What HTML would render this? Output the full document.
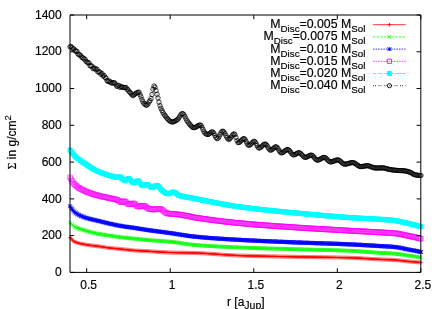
<!DOCTYPE html>
<html><head><meta charset="utf-8"><title>Surface density</title>
<style>html,body{margin:0;padding:0;background:#fff;overflow:hidden}svg{display:block}text{font-family:"Liberation Sans",sans-serif}</style></head>
<body>
<svg width="442" height="309" viewBox="0 0 442 309">
<rect width="442" height="309" fill="#fff"/>
<path d="M70 237.5 71 238.6 72 239.7 73 240.7 74 241.4 75 242 76 242.4 77 242.7 78 243 79 243.3 80 243.5 81 243.8 82 244 83 244.1 84 244.3 85 244.5 86 244.7 87 244.8 88 245 89 245.1 90 245.3 91 245.4 92 245.5 93 245.6 94 245.8 95 245.9 96 246 97 246.1 98 246.3 99 246.4 100 246.6 101 246.7 102 246.9 103 247 104 247.2 105 247.3 106 247.5 107 247.6 108 247.8 109 247.9 110 248 111 248.1 112 248.2 113 248.3 114 248.4 115 248.5 116 248.6 117 248.7 118 248.8 119 248.9 120 249 121 249.1 122 249.2 123 249.3 124 249.4 125 249.5 126 249.6 127 249.7 128 249.8 129 249.9 130 250.1 131 250.2 132 250.3 133 250.4 134 250.4 135 250.5 136 250.6 137 250.6 138 250.7 139 250.8 140 250.8 141 250.9 142 250.9 143 251 144 251 145 251.1 146 251.1 147 251.2 148 251.2 149 251.3 150 251.4 151 251.4 152 251.5 153 251.6 154 251.6 155 251.7 156 251.8 157 251.8 158 251.9 159 252 160 252 161 252.1 162 252.1 163 252.2 164 252.2 165 252.3 166 252.3 167 252.4 168 252.4 169 252.5 170 252.5 171 252.5 172 252.6 173 252.6 174 252.6 175 252.6 176 252.7 177 252.7 178 252.7 179 252.7 180 252.7 181 252.7 182 252.8 183 252.8 184 252.8 185 252.8 186 252.8 187 252.8 188 252.8 189 252.9 190 252.9 191 252.9 192 252.9 193 252.9 194 253 195 253 196 253 197 253.1 198 253.1 199 253.1 200 253.2 201 253.2 202 253.3 203 253.3 204 253.4 205 253.4 206 253.5 207 253.6 208 253.6 209 253.7 210 253.8 211 253.8 212 253.9 213 254 214 254 215 254.1 216 254.2 217 254.2 218 254.3 219 254.4 220 254.5 221 254.5 222 254.6 223 254.7 224 254.7 225 254.8 226 254.9 227 254.9 228 255 229 255.1 230 255.1 231 255.2 232 255.2 233 255.3 234 255.3 235 255.4 236 255.4 237 255.5 238 255.5 239 255.6 240 255.6 241 255.6 242 255.7 243 255.7 244 255.7 245 255.8 246 255.8 247 255.8 248 255.8 249 255.9 250 255.9 251 255.9 252 255.9 253 256 254 256 255 256 256 256 257 256.1 258 256.1 259 256.1 260 256.1 261 256.2 262 256.2 263 256.2 264 256.2 265 256.2 266 256.3 267 256.3 268 256.3 269 256.3 270 256.3 271 256.4 272 256.4 273 256.4 274 256.4 275 256.4 276 256.4 277 256.5 278 256.5 279 256.5 280 256.5 281 256.5 282 256.6 283 256.6 284 256.6 285 256.6 286 256.6 287 256.6 288 256.7 289 256.7 290 256.7 291 256.7 292 256.7 293 256.8 294 256.8 295 256.8 296 256.8 297 256.8 298 256.9 299 256.9 300 256.9 301 256.9 302 256.9 303 256.9 304 257 305 257 306 257 307 257 308 257 309 257 310 257.1 311 257.1 312 257.1 313 257.1 314 257.1 315 257.1 316 257.1 317 257.2 318 257.2 319 257.2 320 257.2 321 257.2 322 257.2 323 257.3 324 257.3 325 257.3 326 257.3 327 257.3 328 257.3 329 257.3 330 257.4 331 257.4 332 257.4 333 257.4 334 257.4 335 257.5 336 257.5 337 257.5 338 257.5 339 257.5 340 257.6 341 257.6 342 257.6 343 257.6 344 257.6 345 257.7 346 257.7 347 257.7 348 257.7 349 257.8 350 257.8 351 257.8 352 257.9 353 257.9 354 257.9 355 258 356 258 357 258.1 358 258.1 359 258.2 360 258.2 361 258.3 362 258.3 363 258.4 364 258.5 365 258.5 366 258.6 367 258.6 368 258.7 369 258.8 370 258.8 371 258.9 372 258.9 373 259 374 259.1 375 259.1 376 259.2 377 259.2 378 259.3 379 259.3 380 259.4 381 259.4 382 259.5 383 259.5 384 259.6 385 259.6 386 259.6 387 259.7 388 259.7 389 259.7 390 259.8 391 259.8 392 259.9 393 259.9 394 260 395 260 396 260.1 397 260.2 398 260.3 399 260.4 400 260.5 401 260.6 402 260.7 403 260.8 404 260.9 405 261.1 406 261.2 407 261.3 408 261.4 409 261.5 410 261.6 411 261.6 412 261.7 413 261.8 414 261.9 415 262 416 262.1 417 262.2 418 262.3 419 262.3 420 262.4 421 262.5" fill="none" stroke="#ff0000" stroke-width="0.9"/>
<path d="M68 237.5h4M70 235.5v4M69 238.6h4M71 236.6v4M70 239.7h4M72 237.7v4M71 240.7h4M73 238.7v4M72 241.4h4M74 239.4v4M73 242h4M75 240v4M74 242.4h4M76 240.4v4M75 242.7h4M77 240.7v4M76 243h4M78 241v4M77 243.3h4M79 241.3v4M78 243.5h4M80 241.5v4M79 243.8h4M81 241.8v4M80 244h4M82 242v4M81 244.1h4M83 242.1v4M82 244.3h4M84 242.3v4M83 244.5h4M85 242.5v4M84 244.7h4M86 242.7v4M85 244.8h4M87 242.8v4M86 245h4M88 243v4M87 245.1h4M89 243.1v4M88 245.3h4M90 243.3v4M89 245.4h4M91 243.4v4M90 245.5h4M92 243.5v4M91 245.6h4M93 243.6v4M92 245.8h4M94 243.8v4M93 245.9h4M95 243.9v4M94 246h4M96 244v4M95 246.1h4M97 244.1v4M96 246.3h4M98 244.3v4M97 246.4h4M99 244.4v4M98 246.6h4M100 244.6v4M99 246.7h4M101 244.7v4M100 246.9h4M102 244.9v4M101 247h4M103 245v4M102 247.2h4M104 245.2v4M103 247.3h4M105 245.3v4M104 247.5h4M106 245.5v4M105 247.6h4M107 245.6v4M106 247.8h4M108 245.8v4M107 247.9h4M109 245.9v4M108 248h4M110 246v4M109 248.1h4M111 246.1v4M110 248.2h4M112 246.2v4M111 248.3h4M113 246.3v4M112 248.4h4M114 246.4v4M113 248.5h4M115 246.5v4M114 248.6h4M116 246.6v4M115 248.7h4M117 246.7v4M116 248.8h4M118 246.8v4M117 248.9h4M119 246.9v4M118 249h4M120 247v4M119 249.1h4M121 247.1v4M120 249.2h4M122 247.2v4M121 249.3h4M123 247.3v4M122 249.4h4M124 247.4v4M123 249.5h4M125 247.5v4M124 249.6h4M126 247.6v4M125 249.7h4M127 247.7v4M126 249.8h4M128 247.8v4M127 249.9h4M129 247.9v4M128 250.1h4M130 248.1v4M129 250.2h4M131 248.2v4M130 250.3h4M132 248.3v4M131 250.4h4M133 248.4v4M132 250.4h4M134 248.4v4M133 250.5h4M135 248.5v4M134 250.6h4M136 248.6v4M135 250.6h4M137 248.6v4M136 250.7h4M138 248.7v4M137 250.8h4M139 248.8v4M138 250.8h4M140 248.8v4M139 250.9h4M141 248.9v4M140 250.9h4M142 248.9v4M141 251h4M143 249v4M142 251h4M144 249v4M143 251.1h4M145 249.1v4M144 251.1h4M146 249.1v4M145 251.2h4M147 249.2v4M146 251.2h4M148 249.2v4M147 251.3h4M149 249.3v4M148 251.4h4M150 249.4v4M149 251.4h4M151 249.4v4M150 251.5h4M152 249.5v4M151 251.6h4M153 249.6v4M152 251.6h4M154 249.6v4M153 251.7h4M155 249.7v4M154 251.8h4M156 249.8v4M155 251.8h4M157 249.8v4M156 251.9h4M158 249.9v4M157 252h4M159 250v4M158 252h4M160 250v4M159 252.1h4M161 250.1v4M160 252.1h4M162 250.1v4M161 252.2h4M163 250.2v4M162 252.2h4M164 250.2v4M163 252.3h4M165 250.3v4M164 252.3h4M166 250.3v4M165 252.4h4M167 250.4v4M166 252.4h4M168 250.4v4M167 252.5h4M169 250.5v4M168 252.5h4M170 250.5v4M169 252.5h4M171 250.5v4M170 252.6h4M172 250.6v4M171 252.6h4M173 250.6v4M172 252.6h4M174 250.6v4M173 252.6h4M175 250.6v4M174 252.7h4M176 250.7v4M175 252.7h4M177 250.7v4M176 252.7h4M178 250.7v4M177 252.7h4M179 250.7v4M178 252.7h4M180 250.7v4M179 252.7h4M181 250.7v4M180 252.8h4M182 250.8v4M181 252.8h4M183 250.8v4M182 252.8h4M184 250.8v4M183 252.8h4M185 250.8v4M184 252.8h4M186 250.8v4M185 252.8h4M187 250.8v4M186 252.8h4M188 250.8v4M187 252.9h4M189 250.9v4M188 252.9h4M190 250.9v4M189 252.9h4M191 250.9v4M190 252.9h4M192 250.9v4M191 252.9h4M193 250.9v4M192 253h4M194 251v4M193 253h4M195 251v4M194 253h4M196 251v4M195 253.1h4M197 251.1v4M196 253.1h4M198 251.1v4M197 253.1h4M199 251.1v4M198 253.2h4M200 251.2v4M199 253.2h4M201 251.2v4M200 253.3h4M202 251.3v4M201 253.3h4M203 251.3v4M202 253.4h4M204 251.4v4M203 253.4h4M205 251.4v4M204 253.5h4M206 251.5v4M205 253.6h4M207 251.6v4M206 253.6h4M208 251.6v4M207 253.7h4M209 251.7v4M208 253.8h4M210 251.8v4M209 253.8h4M211 251.8v4M210 253.9h4M212 251.9v4M211 254h4M213 252v4M212 254h4M214 252v4M213 254.1h4M215 252.1v4M214 254.2h4M216 252.2v4M215 254.2h4M217 252.2v4M216 254.3h4M218 252.3v4M217 254.4h4M219 252.4v4M218 254.5h4M220 252.5v4M219 254.5h4M221 252.5v4M220 254.6h4M222 252.6v4M221 254.7h4M223 252.7v4M222 254.7h4M224 252.7v4M223 254.8h4M225 252.8v4M224 254.9h4M226 252.9v4M225 254.9h4M227 252.9v4M226 255h4M228 253v4M227 255.1h4M229 253.1v4M228 255.1h4M230 253.1v4M229 255.2h4M231 253.2v4M230 255.2h4M232 253.2v4M231 255.3h4M233 253.3v4M232 255.3h4M234 253.3v4M233 255.4h4M235 253.4v4M234 255.4h4M236 253.4v4M235 255.5h4M237 253.5v4M236 255.5h4M238 253.5v4M237 255.6h4M239 253.6v4M238 255.6h4M240 253.6v4M239 255.6h4M241 253.6v4M240 255.7h4M242 253.7v4M241 255.7h4M243 253.7v4M242 255.7h4M244 253.7v4M243 255.8h4M245 253.8v4M244 255.8h4M246 253.8v4M245 255.8h4M247 253.8v4M246 255.8h4M248 253.8v4M247 255.9h4M249 253.9v4M248 255.9h4M250 253.9v4M249 255.9h4M251 253.9v4M250 255.9h4M252 253.9v4M251 256h4M253 254v4M252 256h4M254 254v4M253 256h4M255 254v4M254 256h4M256 254v4M255 256.1h4M257 254.1v4M256 256.1h4M258 254.1v4M257 256.1h4M259 254.1v4M258 256.1h4M260 254.1v4M259 256.2h4M261 254.2v4M260 256.2h4M262 254.2v4M261 256.2h4M263 254.2v4M262 256.2h4M264 254.2v4M263 256.2h4M265 254.2v4M264 256.3h4M266 254.3v4M265 256.3h4M267 254.3v4M266 256.3h4M268 254.3v4M267 256.3h4M269 254.3v4M268 256.3h4M270 254.3v4M269 256.4h4M271 254.4v4M270 256.4h4M272 254.4v4M271 256.4h4M273 254.4v4M272 256.4h4M274 254.4v4M273 256.4h4M275 254.4v4M274 256.4h4M276 254.4v4M275 256.5h4M277 254.5v4M276 256.5h4M278 254.5v4M277 256.5h4M279 254.5v4M278 256.5h4M280 254.5v4M279 256.5h4M281 254.5v4M280 256.6h4M282 254.6v4M281 256.6h4M283 254.6v4M282 256.6h4M284 254.6v4M283 256.6h4M285 254.6v4M284 256.6h4M286 254.6v4M285 256.6h4M287 254.6v4M286 256.7h4M288 254.7v4M287 256.7h4M289 254.7v4M288 256.7h4M290 254.7v4M289 256.7h4M291 254.7v4M290 256.7h4M292 254.7v4M291 256.8h4M293 254.8v4M292 256.8h4M294 254.8v4M293 256.8h4M295 254.8v4M294 256.8h4M296 254.8v4M295 256.8h4M297 254.8v4M296 256.9h4M298 254.9v4M297 256.9h4M299 254.9v4M298 256.9h4M300 254.9v4M299 256.9h4M301 254.9v4M300 256.9h4M302 254.9v4M301 256.9h4M303 254.9v4M302 257h4M304 255v4M303 257h4M305 255v4M304 257h4M306 255v4M305 257h4M307 255v4M306 257h4M308 255v4M307 257h4M309 255v4M308 257.1h4M310 255.1v4M309 257.1h4M311 255.1v4M310 257.1h4M312 255.1v4M311 257.1h4M313 255.1v4M312 257.1h4M314 255.1v4M313 257.1h4M315 255.1v4M314 257.1h4M316 255.1v4M315 257.2h4M317 255.2v4M316 257.2h4M318 255.2v4M317 257.2h4M319 255.2v4M318 257.2h4M320 255.2v4M319 257.2h4M321 255.2v4M320 257.2h4M322 255.2v4M321 257.3h4M323 255.3v4M322 257.3h4M324 255.3v4M323 257.3h4M325 255.3v4M324 257.3h4M326 255.3v4M325 257.3h4M327 255.3v4M326 257.3h4M328 255.3v4M327 257.3h4M329 255.3v4M328 257.4h4M330 255.4v4M329 257.4h4M331 255.4v4M330 257.4h4M332 255.4v4M331 257.4h4M333 255.4v4M332 257.4h4M334 255.4v4M333 257.5h4M335 255.5v4M334 257.5h4M336 255.5v4M335 257.5h4M337 255.5v4M336 257.5h4M338 255.5v4M337 257.5h4M339 255.5v4M338 257.6h4M340 255.6v4M339 257.6h4M341 255.6v4M340 257.6h4M342 255.6v4M341 257.6h4M343 255.6v4M342 257.6h4M344 255.6v4M343 257.7h4M345 255.7v4M344 257.7h4M346 255.7v4M345 257.7h4M347 255.7v4M346 257.7h4M348 255.7v4M347 257.8h4M349 255.8v4M348 257.8h4M350 255.8v4M349 257.8h4M351 255.8v4M350 257.9h4M352 255.9v4M351 257.9h4M353 255.9v4M352 257.9h4M354 255.9v4M353 258h4M355 256v4M354 258h4M356 256v4M355 258.1h4M357 256.1v4M356 258.1h4M358 256.1v4M357 258.2h4M359 256.2v4M358 258.2h4M360 256.2v4M359 258.3h4M361 256.3v4M360 258.3h4M362 256.3v4M361 258.4h4M363 256.4v4M362 258.5h4M364 256.5v4M363 258.5h4M365 256.5v4M364 258.6h4M366 256.6v4M365 258.6h4M367 256.6v4M366 258.7h4M368 256.7v4M367 258.8h4M369 256.8v4M368 258.8h4M370 256.8v4M369 258.9h4M371 256.9v4M370 258.9h4M372 256.9v4M371 259h4M373 257v4M372 259.1h4M374 257.1v4M373 259.1h4M375 257.1v4M374 259.2h4M376 257.2v4M375 259.2h4M377 257.2v4M376 259.3h4M378 257.3v4M377 259.3h4M379 257.3v4M378 259.4h4M380 257.4v4M379 259.4h4M381 257.4v4M380 259.5h4M382 257.5v4M381 259.5h4M383 257.5v4M382 259.6h4M384 257.6v4M383 259.6h4M385 257.6v4M384 259.6h4M386 257.6v4M385 259.7h4M387 257.7v4M386 259.7h4M388 257.7v4M387 259.7h4M389 257.7v4M388 259.8h4M390 257.8v4M389 259.8h4M391 257.8v4M390 259.9h4M392 257.9v4M391 259.9h4M393 257.9v4M392 260h4M394 258v4M393 260h4M395 258v4M394 260.1h4M396 258.1v4M395 260.2h4M397 258.2v4M396 260.3h4M398 258.3v4M397 260.4h4M399 258.4v4M398 260.5h4M400 258.5v4M399 260.6h4M401 258.6v4M400 260.7h4M402 258.7v4M401 260.8h4M403 258.8v4M402 260.9h4M404 258.9v4M403 261.1h4M405 259.1v4M404 261.2h4M406 259.2v4M405 261.3h4M407 259.3v4M406 261.4h4M408 259.4v4M407 261.5h4M409 259.5v4M408 261.6h4M410 259.6v4M409 261.6h4M411 259.6v4M410 261.7h4M412 259.7v4M411 261.8h4M413 259.8v4M412 261.9h4M414 259.9v4M413 262h4M415 260v4M414 262.1h4M416 260.1v4M415 262.2h4M417 260.2v4M416 262.3h4M418 260.3v4M417 262.3h4M419 260.3v4M418 262.4h4M420 260.4v4M419 262.5h4M421 260.5v4" fill="none" stroke="#ff0000" stroke-width="0.62"/>
<path d="M70 222.5 71 223.6 72 224.6 73 225.6 74 226.4 75 227 76 227.5 77 227.9 78 228.3 79 228.7 80 229 81 229.3 82 229.6 83 229.9 84 230.2 85 230.5 86 230.8 87 231.1 88 231.4 89 231.7 90 231.9 91 232.2 92 232.5 93 232.7 94 233 95 233.2 96 233.4 97 233.6 98 233.8 99 234 100 234.2 101 234.4 102 234.5 103 234.7 104 234.8 105 235 106 235.1 107 235.3 108 235.4 109 235.6 110 235.7 111 235.9 112 236 113 236.2 114 236.3 115 236.5 116 236.6 117 236.8 118 236.9 119 237.1 120 237.2 121 237.3 122 237.5 123 237.6 124 237.7 125 237.8 126 237.9 127 238 128 238.1 129 238.2 130 238.3 131 238.3 132 238.4 133 238.5 134 238.6 135 238.7 136 238.8 137 238.9 138 239 139 239.1 140 239.3 141 239.4 142 239.5 143 239.6 144 239.7 145 239.8 146 239.9 147 240 148 240.1 149 240.2 150 240.2 151 240.3 152 240.4 153 240.5 154 240.6 155 240.6 156 240.7 157 240.8 158 240.9 159 240.9 160 241 161 241.1 162 241.2 163 241.2 164 241.3 165 241.4 166 241.4 167 241.5 168 241.6 169 241.6 170 241.7 171 241.8 172 241.9 173 242 174 242.2 175 242.3 176 242.4 177 242.6 178 242.7 179 242.9 180 243 181 243.2 182 243.3 183 243.5 184 243.6 185 243.8 186 243.9 187 244.1 188 244.2 189 244.3 190 244.5 191 244.6 192 244.7 193 244.8 194 244.9 195 245 196 245.1 197 245.2 198 245.2 199 245.3 200 245.4 201 245.5 202 245.5 203 245.6 204 245.7 205 245.7 206 245.8 207 245.9 208 245.9 209 246 210 246.1 211 246.1 212 246.2 213 246.2 214 246.3 215 246.3 216 246.4 217 246.5 218 246.5 219 246.6 220 246.6 221 246.7 222 246.7 223 246.8 224 246.8 225 246.9 226 246.9 227 246.9 228 247 229 247 230 247.1 231 247.1 232 247.2 233 247.2 234 247.3 235 247.3 236 247.3 237 247.4 238 247.4 239 247.5 240 247.5 241 247.5 242 247.6 243 247.6 244 247.7 245 247.7 246 247.7 247 247.8 248 247.8 249 247.8 250 247.9 251 247.9 252 247.9 253 248 254 248 255 248 256 248.1 257 248.1 258 248.1 259 248.2 260 248.2 261 248.2 262 248.3 263 248.3 264 248.3 265 248.3 266 248.4 267 248.4 268 248.4 269 248.5 270 248.5 271 248.5 272 248.5 273 248.6 274 248.6 275 248.6 276 248.7 277 248.7 278 248.7 279 248.7 280 248.8 281 248.8 282 248.8 283 248.9 284 248.9 285 248.9 286 248.9 287 249 288 249 289 249 290 249.1 291 249.1 292 249.1 293 249.1 294 249.2 295 249.2 296 249.2 297 249.3 298 249.3 299 249.3 300 249.3 301 249.4 302 249.4 303 249.4 304 249.5 305 249.5 306 249.5 307 249.5 308 249.6 309 249.6 310 249.6 311 249.6 312 249.7 313 249.7 314 249.7 315 249.7 316 249.8 317 249.8 318 249.8 319 249.8 320 249.9 321 249.9 322 249.9 323 249.9 324 250 325 250 326 250 327 250 328 250.1 329 250.1 330 250.1 331 250.1 332 250.2 333 250.2 334 250.2 335 250.3 336 250.3 337 250.3 338 250.4 339 250.4 340 250.4 341 250.5 342 250.5 343 250.5 344 250.6 345 250.6 346 250.6 347 250.7 348 250.7 349 250.8 350 250.8 351 250.8 352 250.9 353 250.9 354 251 355 251.1 356 251.1 357 251.2 358 251.2 359 251.3 360 251.4 361 251.4 362 251.5 363 251.6 364 251.7 365 251.7 366 251.8 367 251.9 368 252 369 252 370 252.1 371 252.2 372 252.3 373 252.4 374 252.4 375 252.5 376 252.6 377 252.6 378 252.7 379 252.8 380 252.9 381 252.9 382 253 383 253 384 253.1 385 253.1 386 253.2 387 253.2 388 253.3 389 253.3 390 253.4 391 253.4 392 253.5 393 253.6 394 253.6 395 253.7 396 253.8 397 253.9 398 254 399 254.2 400 254.3 401 254.4 402 254.6 403 254.7 404 254.9 405 255.1 406 255.2 407 255.4 408 255.5 409 255.6 410 255.8 411 255.9 412 256.1 413 256.2 414 256.4 415 256.5 416 256.7 417 256.9 418 257 419 257.2 420 257.3 421 257.5" fill="none" stroke="#00ff00" stroke-width="0.75" stroke-dasharray="2.4 1.3"/>
<path d="M68.2 220.7l3.7 3.7M68.2 224.3l3.7 -3.7M69.2 221.7l3.7 3.7M69.2 225.4l3.7 -3.7M70.2 222.8l3.7 3.7M70.2 226.5l3.7 -3.7M71.2 223.7l3.7 3.7M71.2 227.4l3.7 -3.7M72.2 224.5l3.7 3.7M72.2 228.2l3.7 -3.7M73.2 225.2l3.7 3.7M73.2 228.8l3.7 -3.7M74.2 225.7l3.7 3.7M74.2 229.4l3.7 -3.7M75.2 226.1l3.7 3.7M75.2 229.8l3.7 -3.7M76.2 226.5l3.7 3.7M76.2 230.2l3.7 -3.7M77.2 226.9l3.7 3.7M77.2 230.6l3.7 -3.7M78.2 227.2l3.7 3.7M78.2 230.9l3.7 -3.7M79.2 227.5l3.7 3.7M79.2 231.2l3.7 -3.7M80.2 227.8l3.7 3.7M80.2 231.5l3.7 -3.7M81.2 228.1l3.7 3.7M81.2 231.8l3.7 -3.7M82.2 228.4l3.7 3.7M82.2 232.1l3.7 -3.7M83.2 228.7l3.7 3.7M83.2 232.3l3.7 -3.7M84.2 228.9l3.7 3.7M84.2 232.6l3.7 -3.7M85.2 229.2l3.7 3.7M85.2 232.9l3.7 -3.7M86.2 229.5l3.7 3.7M86.2 233.2l3.7 -3.7M87.2 229.8l3.7 3.7M87.2 233.5l3.7 -3.7M88.2 230.1l3.7 3.7M88.2 233.8l3.7 -3.7M89.2 230.4l3.7 3.7M89.2 234.1l3.7 -3.7M90.2 230.6l3.7 3.7M90.2 234.3l3.7 -3.7M91.2 230.9l3.7 3.7M91.2 234.6l3.7 -3.7M92.2 231.1l3.7 3.7M92.2 234.8l3.7 -3.7M93.2 231.3l3.7 3.7M93.2 235l3.7 -3.7M94.2 231.6l3.7 3.7M94.2 235.3l3.7 -3.7M95.2 231.8l3.7 3.7M95.2 235.5l3.7 -3.7M96.2 232l3.7 3.7M96.2 235.7l3.7 -3.7M97.2 232.2l3.7 3.7M97.2 235.9l3.7 -3.7M98.2 232.3l3.7 3.7M98.2 236l3.7 -3.7M99.2 232.5l3.7 3.7M99.2 236.2l3.7 -3.7M100.2 232.7l3.7 3.7M100.2 236.4l3.7 -3.7M101.2 232.8l3.7 3.7M101.2 236.5l3.7 -3.7M102.2 233l3.7 3.7M102.2 236.7l3.7 -3.7M103.2 233.1l3.7 3.7M103.2 236.8l3.7 -3.7M104.2 233.3l3.7 3.7M104.2 237l3.7 -3.7M105.2 233.4l3.7 3.7M105.2 237.1l3.7 -3.7M106.2 233.6l3.7 3.7M106.2 237.3l3.7 -3.7M107.2 233.7l3.7 3.7M107.2 237.4l3.7 -3.7M108.2 233.9l3.7 3.7M108.2 237.6l3.7 -3.7M109.2 234l3.7 3.7M109.2 237.7l3.7 -3.7M110.2 234.2l3.7 3.7M110.2 237.9l3.7 -3.7M111.2 234.3l3.7 3.7M111.2 238l3.7 -3.7M112.2 234.5l3.7 3.7M112.2 238.2l3.7 -3.7M113.2 234.6l3.7 3.7M113.2 238.3l3.7 -3.7M114.2 234.8l3.7 3.7M114.2 238.5l3.7 -3.7M115.2 234.9l3.7 3.7M115.2 238.6l3.7 -3.7M116.2 235.1l3.7 3.7M116.2 238.8l3.7 -3.7M117.2 235.2l3.7 3.7M117.2 238.9l3.7 -3.7M118.2 235.4l3.7 3.7M118.2 239.1l3.7 -3.7M119.2 235.5l3.7 3.7M119.2 239.2l3.7 -3.7M120.2 235.6l3.7 3.7M120.2 239.3l3.7 -3.7M121.2 235.7l3.7 3.7M121.2 239.4l3.7 -3.7M122.2 235.8l3.7 3.7M122.2 239.5l3.7 -3.7M123.2 235.9l3.7 3.7M123.2 239.6l3.7 -3.7M124.2 236l3.7 3.7M124.2 239.7l3.7 -3.7M125.2 236.1l3.7 3.7M125.2 239.8l3.7 -3.7M126.2 236.2l3.7 3.7M126.2 239.9l3.7 -3.7M127.2 236.3l3.7 3.7M127.2 240l3.7 -3.7M128.2 236.4l3.7 3.7M128.2 240.1l3.7 -3.7M129.2 236.5l3.7 3.7M129.2 240.2l3.7 -3.7M130.2 236.6l3.7 3.7M130.2 240.3l3.7 -3.7M131.2 236.7l3.7 3.7M131.2 240.4l3.7 -3.7M132.2 236.8l3.7 3.7M132.2 240.5l3.7 -3.7M133.2 236.9l3.7 3.7M133.2 240.6l3.7 -3.7M134.2 237l3.7 3.7M134.2 240.7l3.7 -3.7M135.2 237.1l3.7 3.7M135.2 240.8l3.7 -3.7M136.2 237.2l3.7 3.7M136.2 240.9l3.7 -3.7M137.2 237.3l3.7 3.7M137.2 241l3.7 -3.7M138.2 237.4l3.7 3.7M138.2 241.1l3.7 -3.7M139.2 237.5l3.7 3.7M139.2 241.2l3.7 -3.7M140.2 237.6l3.7 3.7M140.2 241.3l3.7 -3.7M141.2 237.7l3.7 3.7M141.2 241.4l3.7 -3.7M142.2 237.8l3.7 3.7M142.2 241.5l3.7 -3.7M143.2 237.9l3.7 3.7M143.2 241.6l3.7 -3.7M144.2 238l3.7 3.7M144.2 241.7l3.7 -3.7M145.2 238.1l3.7 3.7M145.2 241.8l3.7 -3.7M146.2 238.2l3.7 3.7M146.2 241.9l3.7 -3.7M147.2 238.3l3.7 3.7M147.2 242l3.7 -3.7M148.2 238.4l3.7 3.7M148.2 242.1l3.7 -3.7M149.2 238.5l3.7 3.7M149.2 242.2l3.7 -3.7M150.2 238.6l3.7 3.7M150.2 242.3l3.7 -3.7M151.2 238.6l3.7 3.7M151.2 242.3l3.7 -3.7M152.2 238.7l3.7 3.7M152.2 242.4l3.7 -3.7M153.2 238.8l3.7 3.7M153.2 242.5l3.7 -3.7M154.2 238.9l3.7 3.7M154.2 242.6l3.7 -3.7M155.2 238.9l3.7 3.7M155.2 242.6l3.7 -3.7M156.2 239l3.7 3.7M156.2 242.7l3.7 -3.7M157.2 239.1l3.7 3.7M157.2 242.8l3.7 -3.7M158.2 239.2l3.7 3.7M158.2 242.9l3.7 -3.7M159.2 239.2l3.7 3.7M159.2 242.9l3.7 -3.7M160.2 239.3l3.7 3.7M160.2 243l3.7 -3.7M161.2 239.4l3.7 3.7M161.2 243.1l3.7 -3.7M162.2 239.4l3.7 3.7M162.2 243.1l3.7 -3.7M163.2 239.5l3.7 3.7M163.2 243.2l3.7 -3.7M164.2 239.6l3.7 3.7M164.2 243.3l3.7 -3.7M165.2 239.6l3.7 3.7M165.2 243.3l3.7 -3.7M166.2 239.7l3.7 3.7M166.2 243.4l3.7 -3.7M167.2 239.8l3.7 3.7M167.2 243.5l3.7 -3.7M168.2 239.9l3.7 3.7M168.2 243.6l3.7 -3.7M169.2 240l3.7 3.7M169.2 243.7l3.7 -3.7M170.2 240.1l3.7 3.7M170.2 243.8l3.7 -3.7M171.2 240.2l3.7 3.7M171.2 243.9l3.7 -3.7M172.2 240.3l3.7 3.7M172.2 244l3.7 -3.7M173.2 240.4l3.7 3.7M173.2 244.1l3.7 -3.7M174.2 240.6l3.7 3.7M174.2 244.3l3.7 -3.7M175.2 240.7l3.7 3.7M175.2 244.4l3.7 -3.7M176.2 240.9l3.7 3.7M176.2 244.6l3.7 -3.7M177.2 241l3.7 3.7M177.2 244.7l3.7 -3.7M178.2 241.2l3.7 3.7M178.2 244.9l3.7 -3.7M179.2 241.3l3.7 3.7M179.2 245l3.7 -3.7M180.2 241.5l3.7 3.7M180.2 245.2l3.7 -3.7M181.2 241.6l3.7 3.7M181.2 245.3l3.7 -3.7M182.2 241.8l3.7 3.7M182.2 245.5l3.7 -3.7M183.2 241.9l3.7 3.7M183.2 245.6l3.7 -3.7M184.2 242.1l3.7 3.7M184.2 245.8l3.7 -3.7M185.2 242.2l3.7 3.7M185.2 245.9l3.7 -3.7M186.2 242.4l3.7 3.7M186.2 246.1l3.7 -3.7M187.2 242.5l3.7 3.7M187.2 246.2l3.7 -3.7M188.2 242.6l3.7 3.7M188.2 246.3l3.7 -3.7M189.2 242.7l3.7 3.7M189.2 246.4l3.7 -3.7M190.2 242.9l3.7 3.7M190.2 246.6l3.7 -3.7M191.2 243l3.7 3.7M191.2 246.7l3.7 -3.7M192.2 243.1l3.7 3.7M192.2 246.8l3.7 -3.7M193.2 243.2l3.7 3.7M193.2 246.8l3.7 -3.7M194.2 243.2l3.7 3.7M194.2 246.9l3.7 -3.7M195.2 243.3l3.7 3.7M195.2 247l3.7 -3.7M196.2 243.4l3.7 3.7M196.2 247.1l3.7 -3.7M197.2 243.5l3.7 3.7M197.2 247.2l3.7 -3.7M198.2 243.5l3.7 3.7M198.2 247.2l3.7 -3.7M199.2 243.6l3.7 3.7M199.2 247.3l3.7 -3.7M200.2 243.7l3.7 3.7M200.2 247.4l3.7 -3.7M201.2 243.7l3.7 3.7M201.2 247.4l3.7 -3.7M202.2 243.8l3.7 3.7M202.2 247.5l3.7 -3.7M203.2 243.9l3.7 3.7M203.2 247.6l3.7 -3.7M204.2 244l3.7 3.7M204.2 247.7l3.7 -3.7M205.2 244l3.7 3.7M205.2 247.7l3.7 -3.7M206.2 244.1l3.7 3.7M206.2 247.8l3.7 -3.7M207.2 244.1l3.7 3.7M207.2 247.8l3.7 -3.7M208.2 244.2l3.7 3.7M208.2 247.9l3.7 -3.7M209.2 244.3l3.7 3.7M209.2 248l3.7 -3.7M210.2 244.3l3.7 3.7M210.2 248l3.7 -3.7M211.2 244.4l3.7 3.7M211.2 248.1l3.7 -3.7M212.2 244.4l3.7 3.7M212.2 248.1l3.7 -3.7M213.2 244.5l3.7 3.7M213.2 248.2l3.7 -3.7M214.2 244.5l3.7 3.7M214.2 248.2l3.7 -3.7M215.2 244.6l3.7 3.7M215.2 248.3l3.7 -3.7M216.2 244.7l3.7 3.7M216.2 248.4l3.7 -3.7M217.2 244.7l3.7 3.7M217.2 248.4l3.7 -3.7M218.2 244.8l3.7 3.7M218.2 248.5l3.7 -3.7M219.2 244.8l3.7 3.7M219.2 248.5l3.7 -3.7M220.2 244.9l3.7 3.7M220.2 248.6l3.7 -3.7M221.2 244.9l3.7 3.7M221.2 248.6l3.7 -3.7M222.2 245l3.7 3.7M222.2 248.7l3.7 -3.7M223.2 245l3.7 3.7M223.2 248.7l3.7 -3.7M224.2 245.1l3.7 3.7M224.2 248.8l3.7 -3.7M225.2 245.1l3.7 3.7M225.2 248.8l3.7 -3.7M226.2 245.1l3.7 3.7M226.2 248.8l3.7 -3.7M227.2 245.2l3.7 3.7M227.2 248.9l3.7 -3.7M228.2 245.2l3.7 3.7M228.2 248.9l3.7 -3.7M229.2 245.3l3.7 3.7M229.2 249l3.7 -3.7M230.2 245.3l3.7 3.7M230.2 249l3.7 -3.7M231.2 245.4l3.7 3.7M231.2 249.1l3.7 -3.7M232.2 245.4l3.7 3.7M232.2 249.1l3.7 -3.7M233.2 245.4l3.7 3.7M233.2 249.1l3.7 -3.7M234.2 245.5l3.7 3.7M234.2 249.2l3.7 -3.7M235.2 245.5l3.7 3.7M235.2 249.2l3.7 -3.7M236.2 245.6l3.7 3.7M236.2 249.3l3.7 -3.7M237.2 245.6l3.7 3.7M237.2 249.3l3.7 -3.7M238.2 245.7l3.7 3.7M238.2 249.3l3.7 -3.7M239.2 245.7l3.7 3.7M239.2 249.4l3.7 -3.7M240.2 245.7l3.7 3.7M240.2 249.4l3.7 -3.7M241.2 245.8l3.7 3.7M241.2 249.5l3.7 -3.7M242.2 245.8l3.7 3.7M242.2 249.5l3.7 -3.7M243.2 245.8l3.7 3.7M243.2 249.5l3.7 -3.7M244.2 245.9l3.7 3.7M244.2 249.6l3.7 -3.7M245.2 245.9l3.7 3.7M245.2 249.6l3.7 -3.7M246.2 246l3.7 3.7M246.2 249.7l3.7 -3.7M247.2 246l3.7 3.7M247.2 249.7l3.7 -3.7M248.2 246l3.7 3.7M248.2 249.7l3.7 -3.7M249.2 246.1l3.7 3.7M249.2 249.8l3.7 -3.7M250.2 246.1l3.7 3.7M250.2 249.8l3.7 -3.7M251.2 246.1l3.7 3.7M251.2 249.8l3.7 -3.7M252.2 246.2l3.7 3.7M252.2 249.9l3.7 -3.7M253.2 246.2l3.7 3.7M253.2 249.9l3.7 -3.7M254.2 246.2l3.7 3.7M254.2 249.9l3.7 -3.7M255.2 246.3l3.7 3.7M255.2 250l3.7 -3.7M256.1 246.3l3.7 3.7M256.1 250l3.7 -3.7M257.1 246.3l3.7 3.7M257.1 250l3.7 -3.7M258.1 246.3l3.7 3.7M258.1 250l3.7 -3.7M259.1 246.4l3.7 3.7M259.1 250.1l3.7 -3.7M260.1 246.4l3.7 3.7M260.1 250.1l3.7 -3.7M261.1 246.4l3.7 3.7M261.1 250.1l3.7 -3.7M262.1 246.5l3.7 3.7M262.1 250.2l3.7 -3.7M263.1 246.5l3.7 3.7M263.1 250.2l3.7 -3.7M264.1 246.5l3.7 3.7M264.1 250.2l3.7 -3.7M265.1 246.6l3.7 3.7M265.1 250.3l3.7 -3.7M266.1 246.6l3.7 3.7M266.1 250.3l3.7 -3.7M267.1 246.6l3.7 3.7M267.1 250.3l3.7 -3.7M268.1 246.6l3.7 3.7M268.1 250.3l3.7 -3.7M269.1 246.7l3.7 3.7M269.1 250.4l3.7 -3.7M270.1 246.7l3.7 3.7M270.1 250.4l3.7 -3.7M271.1 246.7l3.7 3.7M271.1 250.4l3.7 -3.7M272.1 246.8l3.7 3.7M272.1 250.5l3.7 -3.7M273.1 246.8l3.7 3.7M273.1 250.5l3.7 -3.7M274.1 246.8l3.7 3.7M274.1 250.5l3.7 -3.7M275.1 246.8l3.7 3.7M275.1 250.5l3.7 -3.7M276.1 246.9l3.7 3.7M276.1 250.6l3.7 -3.7M277.1 246.9l3.7 3.7M277.1 250.6l3.7 -3.7M278.1 246.9l3.7 3.7M278.1 250.6l3.7 -3.7M279.1 246.9l3.7 3.7M279.1 250.6l3.7 -3.7M280.1 247l3.7 3.7M280.1 250.7l3.7 -3.7M281.1 247l3.7 3.7M281.1 250.7l3.7 -3.7M282.1 247l3.7 3.7M282.1 250.7l3.7 -3.7M283.1 247.1l3.7 3.7M283.1 250.8l3.7 -3.7M284.1 247.1l3.7 3.7M284.1 250.8l3.7 -3.7M285.1 247.1l3.7 3.7M285.1 250.8l3.7 -3.7M286.1 247.1l3.7 3.7M286.1 250.8l3.7 -3.7M287.1 247.2l3.7 3.7M287.1 250.9l3.7 -3.7M288.1 247.2l3.7 3.7M288.1 250.9l3.7 -3.7M289.1 247.2l3.7 3.7M289.1 250.9l3.7 -3.7M290.1 247.3l3.7 3.7M290.1 251l3.7 -3.7M291.1 247.3l3.7 3.7M291.1 251l3.7 -3.7M292.1 247.3l3.7 3.7M292.1 251l3.7 -3.7M293.1 247.3l3.7 3.7M293.1 251l3.7 -3.7M294.1 247.4l3.7 3.7M294.1 251.1l3.7 -3.7M295.1 247.4l3.7 3.7M295.1 251.1l3.7 -3.7M296.1 247.4l3.7 3.7M296.1 251.1l3.7 -3.7M297.1 247.5l3.7 3.7M297.1 251.2l3.7 -3.7M298.1 247.5l3.7 3.7M298.1 251.2l3.7 -3.7M299.1 247.5l3.7 3.7M299.1 251.2l3.7 -3.7M300.1 247.5l3.7 3.7M300.1 251.2l3.7 -3.7M301.1 247.6l3.7 3.7M301.1 251.3l3.7 -3.7M302.1 247.6l3.7 3.7M302.1 251.3l3.7 -3.7M303.1 247.6l3.7 3.7M303.1 251.3l3.7 -3.7M304.1 247.7l3.7 3.7M304.1 251.4l3.7 -3.7M305.1 247.7l3.7 3.7M305.1 251.4l3.7 -3.7M306.1 247.7l3.7 3.7M306.1 251.4l3.7 -3.7M307.1 247.7l3.7 3.7M307.1 251.4l3.7 -3.7M308.1 247.8l3.7 3.7M308.1 251.5l3.7 -3.7M309.1 247.8l3.7 3.7M309.1 251.5l3.7 -3.7M310.1 247.8l3.7 3.7M310.1 251.5l3.7 -3.7M311.1 247.8l3.7 3.7M311.1 251.5l3.7 -3.7M312.1 247.9l3.7 3.7M312.1 251.6l3.7 -3.7M313.1 247.9l3.7 3.7M313.1 251.6l3.7 -3.7M314.1 247.9l3.7 3.7M314.1 251.6l3.7 -3.7M315.1 247.9l3.7 3.7M315.1 251.6l3.7 -3.7M316.1 248l3.7 3.7M316.1 251.7l3.7 -3.7M317.1 248l3.7 3.7M317.1 251.7l3.7 -3.7M318.1 248l3.7 3.7M318.1 251.7l3.7 -3.7M319.1 248l3.7 3.7M319.1 251.7l3.7 -3.7M320.1 248.1l3.7 3.7M320.1 251.8l3.7 -3.7M321.1 248.1l3.7 3.7M321.1 251.8l3.7 -3.7M322.1 248.1l3.7 3.7M322.1 251.8l3.7 -3.7M323.1 248.1l3.7 3.7M323.1 251.8l3.7 -3.7M324.1 248.2l3.7 3.7M324.1 251.9l3.7 -3.7M325.1 248.2l3.7 3.7M325.1 251.9l3.7 -3.7M326.1 248.2l3.7 3.7M326.1 251.9l3.7 -3.7M327.1 248.2l3.7 3.7M327.1 251.9l3.7 -3.7M328.1 248.3l3.7 3.7M328.1 252l3.7 -3.7M329.1 248.3l3.7 3.7M329.1 252l3.7 -3.7M330.1 248.3l3.7 3.7M330.1 252l3.7 -3.7M331.1 248.4l3.7 3.7M331.1 252.1l3.7 -3.7M332.1 248.4l3.7 3.7M332.1 252.1l3.7 -3.7M333.1 248.4l3.7 3.7M333.1 252.1l3.7 -3.7M334.1 248.4l3.7 3.7M334.1 252.1l3.7 -3.7M335.1 248.5l3.7 3.7M335.1 252.2l3.7 -3.7M336.1 248.5l3.7 3.7M336.1 252.2l3.7 -3.7M337.1 248.5l3.7 3.7M337.1 252.2l3.7 -3.7M338.1 248.6l3.7 3.7M338.1 252.3l3.7 -3.7M339.1 248.6l3.7 3.7M339.1 252.3l3.7 -3.7M340.1 248.6l3.7 3.7M340.1 252.3l3.7 -3.7M341.1 248.7l3.7 3.7M341.1 252.4l3.7 -3.7M342.1 248.7l3.7 3.7M342.1 252.4l3.7 -3.7M343.1 248.8l3.7 3.7M343.1 252.5l3.7 -3.7M344.1 248.8l3.7 3.7M344.1 252.5l3.7 -3.7M345.1 248.8l3.7 3.7M345.1 252.5l3.7 -3.7M346.1 248.9l3.7 3.7M346.1 252.6l3.7 -3.7M347.1 248.9l3.7 3.7M347.1 252.6l3.7 -3.7M348.1 249l3.7 3.7M348.1 252.7l3.7 -3.7M349.1 249l3.7 3.7M349.1 252.7l3.7 -3.7M350.1 249l3.7 3.7M350.1 252.7l3.7 -3.7M351.1 249.1l3.7 3.7M351.1 252.8l3.7 -3.7M352.1 249.1l3.7 3.7M352.1 252.8l3.7 -3.7M353.1 249.2l3.7 3.7M353.1 252.9l3.7 -3.7M354.1 249.3l3.7 3.7M354.1 253l3.7 -3.7M355.1 249.3l3.7 3.7M355.1 253l3.7 -3.7M356.1 249.4l3.7 3.7M356.1 253.1l3.7 -3.7M357.1 249.5l3.7 3.7M357.1 253.2l3.7 -3.7M358.1 249.5l3.7 3.7M358.1 253.2l3.7 -3.7M359.1 249.6l3.7 3.7M359.1 253.3l3.7 -3.7M360.1 249.7l3.7 3.7M360.1 253.4l3.7 -3.7M361.1 249.7l3.7 3.7M361.1 253.4l3.7 -3.7M362.1 249.8l3.7 3.7M362.1 253.5l3.7 -3.7M363.1 249.9l3.7 3.7M363.1 253.6l3.7 -3.7M364.1 250l3.7 3.7M364.1 253.7l3.7 -3.7M365.1 250l3.7 3.7M365.1 253.7l3.7 -3.7M366.1 250.1l3.7 3.7M366.1 253.8l3.7 -3.7M367.1 250.2l3.7 3.7M367.1 253.9l3.7 -3.7M368.1 250.3l3.7 3.7M368.1 254l3.7 -3.7M369.1 250.3l3.7 3.7M369.1 254l3.7 -3.7M370.1 250.4l3.7 3.7M370.1 254.1l3.7 -3.7M371.1 250.5l3.7 3.7M371.1 254.2l3.7 -3.7M372.1 250.6l3.7 3.7M372.1 254.3l3.7 -3.7M373.1 250.7l3.7 3.7M373.1 254.4l3.7 -3.7M374.1 250.7l3.7 3.7M374.1 254.4l3.7 -3.7M375.1 250.8l3.7 3.7M375.1 254.5l3.7 -3.7M376.1 250.9l3.7 3.7M376.1 254.6l3.7 -3.7M377.1 250.9l3.7 3.7M377.1 254.6l3.7 -3.7M378.1 251l3.7 3.7M378.1 254.7l3.7 -3.7M379.1 251.1l3.7 3.7M379.1 254.8l3.7 -3.7M380.1 251.1l3.7 3.7M380.1 254.8l3.7 -3.7M381.1 251.2l3.7 3.7M381.1 254.9l3.7 -3.7M382.1 251.2l3.7 3.7M382.1 254.9l3.7 -3.7M383.1 251.3l3.7 3.7M383.1 255l3.7 -3.7M384.1 251.3l3.7 3.7M384.1 255l3.7 -3.7M385.1 251.4l3.7 3.7M385.1 255.1l3.7 -3.7M386.1 251.4l3.7 3.7M386.1 255.1l3.7 -3.7M387.1 251.5l3.7 3.7M387.1 255.2l3.7 -3.7M388.1 251.5l3.7 3.7M388.1 255.2l3.7 -3.7M389.1 251.6l3.7 3.7M389.1 255.3l3.7 -3.7M390.1 251.7l3.7 3.7M390.1 255.4l3.7 -3.7M391.1 251.7l3.7 3.7M391.1 255.4l3.7 -3.7M392.1 251.8l3.7 3.7M392.1 255.5l3.7 -3.7M393.1 251.9l3.7 3.7M393.1 255.6l3.7 -3.7M394.1 252l3.7 3.7M394.1 255.7l3.7 -3.7M395.1 252.1l3.7 3.7M395.1 255.8l3.7 -3.7M396.1 252.2l3.7 3.7M396.1 255.9l3.7 -3.7M397.1 252.3l3.7 3.7M397.1 256l3.7 -3.7M398.1 252.4l3.7 3.7M398.1 256.1l3.7 -3.7M399.1 252.6l3.7 3.7M399.1 256.3l3.7 -3.7M400.1 252.7l3.7 3.7M400.1 256.4l3.7 -3.7M401.1 252.9l3.7 3.7M401.1 256.6l3.7 -3.7M402.1 253.1l3.7 3.7M402.1 256.8l3.7 -3.7M403.1 253.2l3.7 3.7M403.1 256.9l3.7 -3.7M404.1 253.4l3.7 3.7M404.1 257.1l3.7 -3.7M405.1 253.5l3.7 3.7M405.1 257.2l3.7 -3.7M406.1 253.7l3.7 3.7M406.1 257.4l3.7 -3.7M407.1 253.8l3.7 3.7M407.1 257.5l3.7 -3.7M408.1 253.9l3.7 3.7M408.1 257.6l3.7 -3.7M409.1 254.1l3.7 3.7M409.1 257.8l3.7 -3.7M410.1 254.2l3.7 3.7M410.1 257.9l3.7 -3.7M411.1 254.4l3.7 3.7M411.1 258.1l3.7 -3.7M412.1 254.5l3.7 3.7M412.1 258.2l3.7 -3.7M413.1 254.7l3.7 3.7M413.1 258.4l3.7 -3.7M414.1 254.9l3.7 3.7M414.1 258.6l3.7 -3.7M415.1 255l3.7 3.7M415.1 258.7l3.7 -3.7M416.1 255.2l3.7 3.7M416.1 258.9l3.7 -3.7M417.1 255.3l3.7 3.7M417.1 259l3.7 -3.7M418.1 255.5l3.7 3.7M418.1 259.2l3.7 -3.7M419.1 255.6l3.7 3.7M419.1 259.3l3.7 -3.7" fill="none" stroke="#00ff00" stroke-width="0.7"/>
<path d="M70 206.2 71 207.7 72 209.1 73 210.5 74 211.6 75 212.5 76 213.2 77 213.9 78 214.5 79 215 80 215.5 81 216 82 216.4 83 216.8 84 217.1 85 217.5 86 217.8 87 218.1 88 218.4 89 218.7 90 219 91 219.2 92 219.4 93 219.7 94 219.9 95 220.1 96 220.4 97 220.6 98 220.8 99 221.1 100 221.3 101 221.6 102 221.8 103 222.1 104 222.3 105 222.6 106 222.8 107 223 108 223.3 109 223.5 110 223.7 111 223.9 112 224.2 113 224.4 114 224.6 115 224.8 116 225 117 225.2 118 225.4 119 225.6 120 225.8 121 226 122 226.1 123 226.3 124 226.5 125 226.6 126 226.8 127 226.9 128 227.1 129 227.2 130 227.3 131 227.5 132 227.6 133 227.7 134 227.9 135 228 136 228.2 137 228.3 138 228.5 139 228.7 140 228.8 141 229 142 229.2 143 229.3 144 229.5 145 229.6 146 229.8 147 230 148 230.1 149 230.2 150 230.4 151 230.5 152 230.7 153 230.8 154 230.9 155 231.1 156 231.2 157 231.3 158 231.5 159 231.6 160 231.7 161 231.9 162 232 163 232.1 164 232.2 165 232.4 166 232.5 167 232.6 168 232.8 169 232.9 170 233 171 233.2 172 233.3 173 233.5 174 233.6 175 233.8 176 233.9 177 234.1 178 234.3 179 234.4 180 234.6 181 234.8 182 234.9 183 235.1 184 235.2 185 235.4 186 235.5 187 235.7 188 235.8 189 236 190 236.1 191 236.2 192 236.4 193 236.5 194 236.6 195 236.7 196 236.8 197 236.9 198 237 199 237.1 200 237.2 201 237.3 202 237.4 203 237.4 204 237.5 205 237.6 206 237.7 207 237.8 208 237.8 209 237.9 210 238 211 238.1 212 238.2 213 238.2 214 238.3 215 238.4 216 238.4 217 238.5 218 238.6 219 238.6 220 238.7 221 238.8 222 238.8 223 238.9 224 239 225 239 226 239.1 227 239.1 228 239.2 229 239.3 230 239.3 231 239.4 232 239.4 233 239.5 234 239.6 235 239.6 236 239.7 237 239.7 238 239.8 239 239.8 240 239.9 241 240 242 240 243 240.1 244 240.1 245 240.2 246 240.2 247 240.3 248 240.3 249 240.4 250 240.4 251 240.5 252 240.5 253 240.6 254 240.6 255 240.7 256 240.7 257 240.8 258 240.8 259 240.9 260 240.9 261 241 262 241 263 241.1 264 241.1 265 241.1 266 241.2 267 241.2 268 241.3 269 241.3 270 241.4 271 241.4 272 241.5 273 241.5 274 241.5 275 241.6 276 241.6 277 241.7 278 241.7 279 241.7 280 241.8 281 241.8 282 241.9 283 241.9 284 242 285 242 286 242 287 242.1 288 242.1 289 242.2 290 242.2 291 242.2 292 242.3 293 242.3 294 242.4 295 242.4 296 242.4 297 242.5 298 242.5 299 242.6 300 242.6 301 242.6 302 242.7 303 242.7 304 242.7 305 242.8 306 242.8 307 242.8 308 242.9 309 242.9 310 243 311 243 312 243 313 243.1 314 243.1 315 243.1 316 243.2 317 243.2 318 243.2 319 243.3 320 243.3 321 243.3 322 243.4 323 243.4 324 243.4 325 243.5 326 243.5 327 243.5 328 243.6 329 243.6 330 243.6 331 243.7 332 243.7 333 243.7 334 243.8 335 243.8 336 243.8 337 243.9 338 243.9 339 243.9 340 244 341 244 342 244.1 343 244.1 344 244.1 345 244.2 346 244.2 347 244.3 348 244.3 349 244.4 350 244.4 351 244.4 352 244.5 353 244.5 354 244.6 355 244.6 356 244.7 357 244.7 358 244.8 359 244.8 360 244.9 361 244.9 362 245 363 245.1 364 245.1 365 245.2 366 245.2 367 245.3 368 245.3 369 245.4 370 245.5 371 245.5 372 245.6 373 245.6 374 245.7 375 245.8 376 245.8 377 245.9 378 245.9 379 246 380 246.1 381 246.1 382 246.2 383 246.2 384 246.3 385 246.4 386 246.4 387 246.5 388 246.5 389 246.6 390 246.6 391 246.7 392 246.8 393 246.8 394 246.9 395 247 396 247.1 397 247.3 398 247.4 399 247.6 400 247.8 401 248 402 248.2 403 248.4 404 248.6 405 248.8 406 249 407 249.2 408 249.4 409 249.6 410 249.8 411 250 412 250.2 413 250.4 414 250.6 415 250.8 416 251 417 251.2 418 251.4 419 251.6 420 251.8 421 252" fill="none" stroke="#0000ff" stroke-width="0.75" stroke-dasharray="1.5 1.1"/>
<path d="M68 206.2h4.1M70 204.1v4.1M68 204.1l4.1 4.1M68 208.2l4.1 -4.1M69 207.7h4.1M71 205.7v4.1M69 205.7l4.1 4.1M69 209.8l4.1 -4.1M70 209.1h4.1M72 207.1v4.1M70 207.1l4.1 4.1M70 211.2l4.1 -4.1M71 210.5h4.1M73 208.4v4.1M71 208.4l4.1 4.1M71 212.5l4.1 -4.1M72 211.6h4.1M74 209.6v4.1M72 209.6l4.1 4.1M72 213.7l4.1 -4.1M73 212.5h4.1M75 210.4v4.1M73 210.4l4.1 4.1M73 214.6l4.1 -4.1M74 213.2h4.1M76 211.2v4.1M74 211.2l4.1 4.1M74 215.3l4.1 -4.1M75 213.9h4.1M77 211.8v4.1M75 211.8l4.1 4.1M75 215.9l4.1 -4.1M76 214.5h4.1M78 212.4v4.1M76 212.4l4.1 4.1M76 216.5l4.1 -4.1M77 215h4.1M79 213v4.1M77 213l4.1 4.1M77 217.1l4.1 -4.1M78 215.5h4.1M80 213.5v4.1M78 213.5l4.1 4.1M78 217.6l4.1 -4.1M79 216h4.1M81 213.9v4.1M79 213.9l4.1 4.1M79 218l4.1 -4.1M80 216.4h4.1M82 214.3v4.1M80 214.3l4.1 4.1M80 218.4l4.1 -4.1M81 216.8h4.1M83 214.7v4.1M81 214.7l4.1 4.1M81 218.8l4.1 -4.1M82 217.1h4.1M84 215.1v4.1M82 215.1l4.1 4.1M82 219.2l4.1 -4.1M83 217.5h4.1M85 215.4v4.1M83 215.4l4.1 4.1M83 219.6l4.1 -4.1M84 217.8h4.1M86 215.8v4.1M84 215.8l4.1 4.1M84 219.9l4.1 -4.1M85 218.1h4.1M87 216.1v4.1M85 216.1l4.1 4.1M85 220.2l4.1 -4.1M86 218.4h4.1M88 216.4v4.1M86 216.4l4.1 4.1M86 220.5l4.1 -4.1M87 218.7h4.1M89 216.6v4.1M87 216.6l4.1 4.1M87 220.7l4.1 -4.1M88 219h4.1M90 216.9v4.1M88 216.9l4.1 4.1M88 221l4.1 -4.1M89 219.2h4.1M91 217.2v4.1M89 217.2l4.1 4.1M89 221.3l4.1 -4.1M90 219.4h4.1M92 217.4v4.1M90 217.4l4.1 4.1M90 221.5l4.1 -4.1M91 219.7h4.1M93 217.6v4.1M91 217.6l4.1 4.1M91 221.7l4.1 -4.1M92 219.9h4.1M94 217.8v4.1M92 217.8l4.1 4.1M92 221.9l4.1 -4.1M93 220.1h4.1M95 218.1v4.1M93 218.1l4.1 4.1M93 222.2l4.1 -4.1M94 220.4h4.1M96 218.3v4.1M94 218.3l4.1 4.1M94 222.4l4.1 -4.1M95 220.6h4.1M97 218.6v4.1M95 218.6l4.1 4.1M95 222.7l4.1 -4.1M96 220.8h4.1M98 218.8v4.1M96 218.8l4.1 4.1M96 222.9l4.1 -4.1M97 221.1h4.1M99 219v4.1M97 219l4.1 4.1M97 223.1l4.1 -4.1M98 221.3h4.1M100 219.3v4.1M98 219.3l4.1 4.1M98 223.4l4.1 -4.1M99 221.6h4.1M101 219.5v4.1M99 219.5l4.1 4.1M99 223.6l4.1 -4.1M100 221.8h4.1M102 219.8v4.1M100 219.8l4.1 4.1M100 223.9l4.1 -4.1M101 222.1h4.1M103 220v4.1M101 220l4.1 4.1M101 224.1l4.1 -4.1M102 222.3h4.1M104 220.3v4.1M102 220.3l4.1 4.1M102 224.4l4.1 -4.1M103 222.6h4.1M105 220.5v4.1M103 220.5l4.1 4.1M103 224.6l4.1 -4.1M104 222.8h4.1M106 220.8v4.1M104 220.8l4.1 4.1M104 224.9l4.1 -4.1M105 223h4.1M107 221v4.1M105 221l4.1 4.1M105 225.1l4.1 -4.1M106 223.3h4.1M108 221.2v4.1M106 221.2l4.1 4.1M106 225.3l4.1 -4.1M107 223.5h4.1M109 221.5v4.1M107 221.5l4.1 4.1M107 225.6l4.1 -4.1M108 223.7h4.1M110 221.7v4.1M108 221.7l4.1 4.1M108 225.8l4.1 -4.1M109 223.9h4.1M111 221.9v4.1M109 221.9l4.1 4.1M109 226l4.1 -4.1M110 224.2h4.1M112 222.1v4.1M110 222.1l4.1 4.1M110 226.2l4.1 -4.1M111 224.4h4.1M113 222.3v4.1M111 222.3l4.1 4.1M111 226.4l4.1 -4.1M112 224.6h4.1M114 222.5v4.1M112 222.5l4.1 4.1M112 226.6l4.1 -4.1M113 224.8h4.1M115 222.8v4.1M113 222.8l4.1 4.1M113 226.9l4.1 -4.1M114 225h4.1M116 223v4.1M114 223l4.1 4.1M114 227.1l4.1 -4.1M115 225.2h4.1M117 223.2v4.1M115 223.2l4.1 4.1M115 227.3l4.1 -4.1M116 225.4h4.1M118 223.4v4.1M116 223.4l4.1 4.1M116 227.5l4.1 -4.1M117 225.6h4.1M119 223.6v4.1M117 223.6l4.1 4.1M117 227.7l4.1 -4.1M118 225.8h4.1M120 223.7v4.1M118 223.7l4.1 4.1M118 227.8l4.1 -4.1M119 226h4.1M121 223.9v4.1M119 223.9l4.1 4.1M119 228l4.1 -4.1M120 226.1h4.1M122 224.1v4.1M120 224.1l4.1 4.1M120 228.2l4.1 -4.1M121 226.3h4.1M123 224.3v4.1M121 224.3l4.1 4.1M121 228.4l4.1 -4.1M122 226.5h4.1M124 224.4v4.1M122 224.4l4.1 4.1M122 228.5l4.1 -4.1M123 226.6h4.1M125 224.6v4.1M123 224.6l4.1 4.1M123 228.7l4.1 -4.1M124 226.8h4.1M126 224.7v4.1M124 224.7l4.1 4.1M124 228.8l4.1 -4.1M125 226.9h4.1M127 224.9v4.1M125 224.9l4.1 4.1M125 229l4.1 -4.1M126 227.1h4.1M128 225v4.1M126 225l4.1 4.1M126 229.1l4.1 -4.1M127 227.2h4.1M129 225.1v4.1M127 225.1l4.1 4.1M127 229.2l4.1 -4.1M128 227.3h4.1M130 225.3v4.1M128 225.3l4.1 4.1M128 229.4l4.1 -4.1M128.9 227.5h4.1M131 225.4v4.1M128.9 225.4l4.1 4.1M128.9 229.5l4.1 -4.1M129.9 227.6h4.1M132 225.5v4.1M129.9 225.5l4.1 4.1M129.9 229.6l4.1 -4.1M130.9 227.7h4.1M133 225.7v4.1M130.9 225.7l4.1 4.1M130.9 229.8l4.1 -4.1M131.9 227.9h4.1M134 225.8v4.1M131.9 225.8l4.1 4.1M131.9 229.9l4.1 -4.1M132.9 228h4.1M135 226v4.1M132.9 226l4.1 4.1M132.9 230.1l4.1 -4.1M133.9 228.2h4.1M136 226.1v4.1M133.9 226.1l4.1 4.1M133.9 230.2l4.1 -4.1M134.9 228.3h4.1M137 226.3v4.1M134.9 226.3l4.1 4.1M134.9 230.4l4.1 -4.1M135.9 228.5h4.1M138 226.5v4.1M135.9 226.5l4.1 4.1M135.9 230.6l4.1 -4.1M136.9 228.7h4.1M139 226.6v4.1M136.9 226.6l4.1 4.1M136.9 230.7l4.1 -4.1M137.9 228.8h4.1M140 226.8v4.1M137.9 226.8l4.1 4.1M137.9 230.9l4.1 -4.1M138.9 229h4.1M141 226.9v4.1M138.9 226.9l4.1 4.1M138.9 231l4.1 -4.1M139.9 229.2h4.1M142 227.1v4.1M139.9 227.1l4.1 4.1M139.9 231.2l4.1 -4.1M140.9 229.3h4.1M143 227.3v4.1M140.9 227.3l4.1 4.1M140.9 231.4l4.1 -4.1M141.9 229.5h4.1M144 227.4v4.1M141.9 227.4l4.1 4.1M141.9 231.5l4.1 -4.1M142.9 229.6h4.1M145 227.6v4.1M142.9 227.6l4.1 4.1M142.9 231.7l4.1 -4.1M143.9 229.8h4.1M146 227.8v4.1M143.9 227.8l4.1 4.1M143.9 231.9l4.1 -4.1M144.9 230h4.1M147 227.9v4.1M144.9 227.9l4.1 4.1M144.9 232l4.1 -4.1M145.9 230.1h4.1M148 228.1v4.1M145.9 228.1l4.1 4.1M145.9 232.2l4.1 -4.1M146.9 230.2h4.1M149 228.2v4.1M146.9 228.2l4.1 4.1M146.9 232.3l4.1 -4.1M147.9 230.4h4.1M150 228.3v4.1M147.9 228.3l4.1 4.1M147.9 232.4l4.1 -4.1M148.9 230.5h4.1M151 228.5v4.1M148.9 228.5l4.1 4.1M148.9 232.6l4.1 -4.1M149.9 230.7h4.1M152 228.6v4.1M149.9 228.6l4.1 4.1M149.9 232.7l4.1 -4.1M150.9 230.8h4.1M153 228.7v4.1M150.9 228.7l4.1 4.1M150.9 232.8l4.1 -4.1M151.9 230.9h4.1M154 228.9v4.1M151.9 228.9l4.1 4.1M151.9 233l4.1 -4.1M152.9 231.1h4.1M155 229v4.1M152.9 229l4.1 4.1M152.9 233.1l4.1 -4.1M153.9 231.2h4.1M156 229.1v4.1M153.9 229.1l4.1 4.1M153.9 233.2l4.1 -4.1M154.9 231.3h4.1M157 229.3v4.1M154.9 229.3l4.1 4.1M154.9 233.4l4.1 -4.1M155.9 231.5h4.1M158 229.4v4.1M155.9 229.4l4.1 4.1M155.9 233.5l4.1 -4.1M156.9 231.6h4.1M159 229.5v4.1M156.9 229.5l4.1 4.1M156.9 233.6l4.1 -4.1M157.9 231.7h4.1M160 229.7v4.1M157.9 229.7l4.1 4.1M157.9 233.8l4.1 -4.1M158.9 231.9h4.1M161 229.8v4.1M158.9 229.8l4.1 4.1M158.9 233.9l4.1 -4.1M159.9 232h4.1M162 229.9v4.1M159.9 229.9l4.1 4.1M159.9 234l4.1 -4.1M160.9 232.1h4.1M163 230.1v4.1M160.9 230.1l4.1 4.1M160.9 234.2l4.1 -4.1M161.9 232.2h4.1M164 230.2v4.1M161.9 230.2l4.1 4.1M161.9 234.3l4.1 -4.1M162.9 232.4h4.1M165 230.3v4.1M162.9 230.3l4.1 4.1M162.9 234.4l4.1 -4.1M163.9 232.5h4.1M166 230.5v4.1M163.9 230.5l4.1 4.1M163.9 234.6l4.1 -4.1M164.9 232.6h4.1M167 230.6v4.1M164.9 230.6l4.1 4.1M164.9 234.7l4.1 -4.1M165.9 232.8h4.1M168 230.7v4.1M165.9 230.7l4.1 4.1M165.9 234.8l4.1 -4.1M166.9 232.9h4.1M169 230.9v4.1M166.9 230.9l4.1 4.1M166.9 235l4.1 -4.1M167.9 233h4.1M170 231v4.1M167.9 231l4.1 4.1M167.9 235.1l4.1 -4.1M168.9 233.2h4.1M171 231.1v4.1M168.9 231.1l4.1 4.1M168.9 235.2l4.1 -4.1M169.9 233.3h4.1M172 231.3v4.1M169.9 231.3l4.1 4.1M169.9 235.4l4.1 -4.1M170.9 233.5h4.1M173 231.4v4.1M170.9 231.4l4.1 4.1M170.9 235.5l4.1 -4.1M171.9 233.6h4.1M174 231.6v4.1M171.9 231.6l4.1 4.1M171.9 235.7l4.1 -4.1M172.9 233.8h4.1M175 231.7v4.1M172.9 231.7l4.1 4.1M172.9 235.8l4.1 -4.1M173.9 233.9h4.1M176 231.9v4.1M173.9 231.9l4.1 4.1M173.9 236l4.1 -4.1M174.9 234.1h4.1M177 232.1v4.1M174.9 232.1l4.1 4.1M174.9 236.2l4.1 -4.1M175.9 234.3h4.1M178 232.2v4.1M175.9 232.2l4.1 4.1M175.9 236.3l4.1 -4.1M176.9 234.4h4.1M179 232.4v4.1M176.9 232.4l4.1 4.1M176.9 236.5l4.1 -4.1M177.9 234.6h4.1M180 232.5v4.1M177.9 232.5l4.1 4.1M177.9 236.6l4.1 -4.1M178.9 234.8h4.1M181 232.7v4.1M178.9 232.7l4.1 4.1M178.9 236.8l4.1 -4.1M179.9 234.9h4.1M182 232.9v4.1M179.9 232.9l4.1 4.1M179.9 237l4.1 -4.1M180.9 235.1h4.1M183 233v4.1M180.9 233l4.1 4.1M180.9 237.1l4.1 -4.1M181.9 235.2h4.1M184 233.2v4.1M181.9 233.2l4.1 4.1M181.9 237.3l4.1 -4.1M182.9 235.4h4.1M185 233.3v4.1M182.9 233.3l4.1 4.1M182.9 237.4l4.1 -4.1M183.9 235.5h4.1M186 233.5v4.1M183.9 233.5l4.1 4.1M183.9 237.6l4.1 -4.1M184.9 235.7h4.1M187 233.6v4.1M184.9 233.6l4.1 4.1M184.9 237.7l4.1 -4.1M185.9 235.8h4.1M188 233.8v4.1M185.9 233.8l4.1 4.1M185.9 237.9l4.1 -4.1M186.9 236h4.1M189 233.9v4.1M186.9 233.9l4.1 4.1M186.9 238l4.1 -4.1M187.9 236.1h4.1M190 234.1v4.1M187.9 234.1l4.1 4.1M187.9 238.2l4.1 -4.1M188.9 236.2h4.1M191 234.2v4.1M188.9 234.2l4.1 4.1M188.9 238.3l4.1 -4.1M189.9 236.4h4.1M192 234.3v4.1M189.9 234.3l4.1 4.1M189.9 238.4l4.1 -4.1M190.9 236.5h4.1M193 234.4v4.1M190.9 234.4l4.1 4.1M190.9 238.5l4.1 -4.1M191.9 236.6h4.1M194 234.5v4.1M191.9 234.5l4.1 4.1M191.9 238.6l4.1 -4.1M192.9 236.7h4.1M195 234.6v4.1M192.9 234.6l4.1 4.1M192.9 238.8l4.1 -4.1M193.9 236.8h4.1M196 234.7v4.1M193.9 234.7l4.1 4.1M193.9 238.8l4.1 -4.1M194.9 236.9h4.1M197 234.8v4.1M194.9 234.8l4.1 4.1M194.9 238.9l4.1 -4.1M195.9 237h4.1M198 234.9v4.1M195.9 234.9l4.1 4.1M195.9 239l4.1 -4.1M196.9 237.1h4.1M199 235v4.1M196.9 235l4.1 4.1M196.9 239.1l4.1 -4.1M197.9 237.2h4.1M200 235.1v4.1M197.9 235.1l4.1 4.1M197.9 239.2l4.1 -4.1M198.9 237.3h4.1M201 235.2v4.1M198.9 235.2l4.1 4.1M198.9 239.3l4.1 -4.1M199.9 237.4h4.1M202 235.3v4.1M199.9 235.3l4.1 4.1M199.9 239.4l4.1 -4.1M200.9 237.4h4.1M203 235.4v4.1M200.9 235.4l4.1 4.1M200.9 239.5l4.1 -4.1M201.9 237.5h4.1M204 235.5v4.1M201.9 235.5l4.1 4.1M201.9 239.6l4.1 -4.1M202.9 237.6h4.1M205 235.6v4.1M202.9 235.6l4.1 4.1M202.9 239.7l4.1 -4.1M203.9 237.7h4.1M206 235.6v4.1M203.9 235.6l4.1 4.1M203.9 239.7l4.1 -4.1M204.9 237.8h4.1M207 235.7v4.1M204.9 235.7l4.1 4.1M204.9 239.8l4.1 -4.1M205.9 237.8h4.1M208 235.8v4.1M205.9 235.8l4.1 4.1M205.9 239.9l4.1 -4.1M206.9 237.9h4.1M209 235.9v4.1M206.9 235.9l4.1 4.1M206.9 240l4.1 -4.1M207.9 238h4.1M210 236v4.1M207.9 236l4.1 4.1M207.9 240.1l4.1 -4.1M208.9 238.1h4.1M211 236v4.1M208.9 236l4.1 4.1M208.9 240.1l4.1 -4.1M209.9 238.2h4.1M212 236.1v4.1M209.9 236.1l4.1 4.1M209.9 240.2l4.1 -4.1M210.9 238.2h4.1M213 236.2v4.1M210.9 236.2l4.1 4.1M210.9 240.3l4.1 -4.1M211.9 238.3h4.1M214 236.2v4.1M211.9 236.2l4.1 4.1M211.9 240.3l4.1 -4.1M212.9 238.4h4.1M215 236.3v4.1M212.9 236.3l4.1 4.1M212.9 240.4l4.1 -4.1M213.9 238.4h4.1M216 236.4v4.1M213.9 236.4l4.1 4.1M213.9 240.5l4.1 -4.1M214.9 238.5h4.1M217 236.5v4.1M214.9 236.5l4.1 4.1M214.9 240.6l4.1 -4.1M215.9 238.6h4.1M218 236.5v4.1M215.9 236.5l4.1 4.1M215.9 240.6l4.1 -4.1M216.9 238.6h4.1M219 236.6v4.1M216.9 236.6l4.1 4.1M216.9 240.7l4.1 -4.1M217.9 238.7h4.1M220 236.7v4.1M217.9 236.7l4.1 4.1M217.9 240.8l4.1 -4.1M218.9 238.8h4.1M221 236.7v4.1M218.9 236.7l4.1 4.1M218.9 240.8l4.1 -4.1M219.9 238.8h4.1M222 236.8v4.1M219.9 236.8l4.1 4.1M219.9 240.9l4.1 -4.1M220.9 238.9h4.1M223 236.9v4.1M220.9 236.9l4.1 4.1M220.9 241l4.1 -4.1M221.9 239h4.1M224 236.9v4.1M221.9 236.9l4.1 4.1M221.9 241l4.1 -4.1M222.9 239h4.1M225 237v4.1M222.9 237l4.1 4.1M222.9 241.1l4.1 -4.1M223.9 239.1h4.1M226 237v4.1M223.9 237l4.1 4.1M223.9 241.1l4.1 -4.1M224.9 239.1h4.1M227 237.1v4.1M224.9 237.1l4.1 4.1M224.9 241.2l4.1 -4.1M225.9 239.2h4.1M228 237.2v4.1M225.9 237.2l4.1 4.1M225.9 241.3l4.1 -4.1M226.9 239.3h4.1M229 237.2v4.1M226.9 237.2l4.1 4.1M226.9 241.3l4.1 -4.1M227.9 239.3h4.1M230 237.3v4.1M227.9 237.3l4.1 4.1M227.9 241.4l4.1 -4.1M228.9 239.4h4.1M231 237.3v4.1M228.9 237.3l4.1 4.1M228.9 241.4l4.1 -4.1M229.9 239.4h4.1M232 237.4v4.1M229.9 237.4l4.1 4.1M229.9 241.5l4.1 -4.1M230.9 239.5h4.1M233 237.5v4.1M230.9 237.5l4.1 4.1M230.9 241.6l4.1 -4.1M231.9 239.6h4.1M234 237.5v4.1M231.9 237.5l4.1 4.1M231.9 241.6l4.1 -4.1M232.9 239.6h4.1M235 237.6v4.1M232.9 237.6l4.1 4.1M232.9 241.7l4.1 -4.1M233.9 239.7h4.1M236 237.6v4.1M233.9 237.6l4.1 4.1M233.9 241.7l4.1 -4.1M234.9 239.7h4.1M237 237.7v4.1M234.9 237.7l4.1 4.1M234.9 241.8l4.1 -4.1M235.9 239.8h4.1M238 237.7v4.1M235.9 237.7l4.1 4.1M235.9 241.8l4.1 -4.1M236.9 239.8h4.1M239 237.8v4.1M236.9 237.8l4.1 4.1M236.9 241.9l4.1 -4.1M237.9 239.9h4.1M240 237.8v4.1M237.9 237.8l4.1 4.1M237.9 242l4.1 -4.1M238.9 240h4.1M241 237.9v4.1M238.9 237.9l4.1 4.1M238.9 242l4.1 -4.1M239.9 240h4.1M242 238v4.1M239.9 238l4.1 4.1M239.9 242.1l4.1 -4.1M240.9 240.1h4.1M243 238v4.1M240.9 238l4.1 4.1M240.9 242.1l4.1 -4.1M241.9 240.1h4.1M244 238.1v4.1M241.9 238.1l4.1 4.1M241.9 242.2l4.1 -4.1M242.9 240.2h4.1M245 238.1v4.1M242.9 238.1l4.1 4.1M242.9 242.2l4.1 -4.1M243.9 240.2h4.1M246 238.2v4.1M243.9 238.2l4.1 4.1M243.9 242.3l4.1 -4.1M244.9 240.3h4.1M247 238.2v4.1M244.9 238.2l4.1 4.1M244.9 242.3l4.1 -4.1M245.9 240.3h4.1M248 238.3v4.1M245.9 238.3l4.1 4.1M245.9 242.4l4.1 -4.1M246.9 240.4h4.1M249 238.3v4.1M246.9 238.3l4.1 4.1M246.9 242.4l4.1 -4.1M247.9 240.4h4.1M250 238.4v4.1M247.9 238.4l4.1 4.1M247.9 242.5l4.1 -4.1M248.9 240.5h4.1M251 238.4v4.1M248.9 238.4l4.1 4.1M248.9 242.5l4.1 -4.1M249.9 240.5h4.1M252 238.5v4.1M249.9 238.5l4.1 4.1M249.9 242.6l4.1 -4.1M250.9 240.6h4.1M253 238.5v4.1M250.9 238.5l4.1 4.1M250.9 242.6l4.1 -4.1M251.9 240.6h4.1M254 238.6v4.1M251.9 238.6l4.1 4.1M251.9 242.7l4.1 -4.1M252.9 240.7h4.1M255 238.6v4.1M252.9 238.6l4.1 4.1M252.9 242.7l4.1 -4.1M253.9 240.7h4.1M256 238.7v4.1M253.9 238.7l4.1 4.1M253.9 242.8l4.1 -4.1M254.9 240.8h4.1M257 238.7v4.1M254.9 238.7l4.1 4.1M254.9 242.8l4.1 -4.1M255.9 240.8h4.1M258 238.8v4.1M255.9 238.8l4.1 4.1M255.9 242.9l4.1 -4.1M256.9 240.9h4.1M259 238.8v4.1M256.9 238.8l4.1 4.1M256.9 242.9l4.1 -4.1M257.9 240.9h4.1M260 238.9v4.1M257.9 238.9l4.1 4.1M257.9 243l4.1 -4.1M258.9 241h4.1M261 238.9v4.1M258.9 238.9l4.1 4.1M258.9 243l4.1 -4.1M259.9 241h4.1M262 239v4.1M259.9 239l4.1 4.1M259.9 243.1l4.1 -4.1M260.9 241.1h4.1M263 239v4.1M260.9 239l4.1 4.1M260.9 243.1l4.1 -4.1M261.9 241.1h4.1M264 239.1v4.1M261.9 239.1l4.1 4.1M261.9 243.2l4.1 -4.1M262.9 241.1h4.1M265 239.1v4.1M262.9 239.1l4.1 4.1M262.9 243.2l4.1 -4.1M263.9 241.2h4.1M266 239.1v4.1M263.9 239.1l4.1 4.1M263.9 243.2l4.1 -4.1M264.9 241.2h4.1M267 239.2v4.1M264.9 239.2l4.1 4.1M264.9 243.3l4.1 -4.1M265.9 241.3h4.1M268 239.2v4.1M265.9 239.2l4.1 4.1M265.9 243.3l4.1 -4.1M266.9 241.3h4.1M269 239.3v4.1M266.9 239.3l4.1 4.1M266.9 243.4l4.1 -4.1M267.9 241.4h4.1M270 239.3v4.1M267.9 239.3l4.1 4.1M267.9 243.4l4.1 -4.1M268.9 241.4h4.1M271 239.4v4.1M268.9 239.4l4.1 4.1M268.9 243.5l4.1 -4.1M269.9 241.5h4.1M272 239.4v4.1M269.9 239.4l4.1 4.1M269.9 243.5l4.1 -4.1M270.9 241.5h4.1M273 239.4v4.1M270.9 239.4l4.1 4.1M270.9 243.5l4.1 -4.1M271.9 241.5h4.1M274 239.5v4.1M271.9 239.5l4.1 4.1M271.9 243.6l4.1 -4.1M272.9 241.6h4.1M275 239.5v4.1M272.9 239.5l4.1 4.1M272.9 243.6l4.1 -4.1M273.9 241.6h4.1M276 239.6v4.1M273.9 239.6l4.1 4.1M273.9 243.7l4.1 -4.1M274.9 241.7h4.1M277 239.6v4.1M274.9 239.6l4.1 4.1M274.9 243.7l4.1 -4.1M275.9 241.7h4.1M278 239.7v4.1M275.9 239.7l4.1 4.1M275.9 243.8l4.1 -4.1M276.9 241.7h4.1M279 239.7v4.1M276.9 239.7l4.1 4.1M276.9 243.8l4.1 -4.1M277.9 241.8h4.1M280 239.7v4.1M277.9 239.7l4.1 4.1M277.9 243.8l4.1 -4.1M278.9 241.8h4.1M281 239.8v4.1M278.9 239.8l4.1 4.1M278.9 243.9l4.1 -4.1M279.9 241.9h4.1M282 239.8v4.1M279.9 239.8l4.1 4.1M279.9 243.9l4.1 -4.1M280.9 241.9h4.1M283 239.9v4.1M280.9 239.9l4.1 4.1M280.9 244l4.1 -4.1M281.9 242h4.1M284 239.9v4.1M281.9 239.9l4.1 4.1M281.9 244l4.1 -4.1M282.9 242h4.1M285 239.9v4.1M282.9 239.9l4.1 4.1M282.9 244l4.1 -4.1M283.9 242h4.1M286 240v4.1M283.9 240l4.1 4.1M283.9 244.1l4.1 -4.1M284.9 242.1h4.1M287 240v4.1M284.9 240l4.1 4.1M284.9 244.1l4.1 -4.1M285.9 242.1h4.1M288 240.1v4.1M285.9 240.1l4.1 4.1M285.9 244.2l4.1 -4.1M286.9 242.2h4.1M289 240.1v4.1M286.9 240.1l4.1 4.1M286.9 244.2l4.1 -4.1M287.9 242.2h4.1M290 240.1v4.1M287.9 240.1l4.1 4.1M287.9 244.2l4.1 -4.1M288.9 242.2h4.1M291 240.2v4.1M288.9 240.2l4.1 4.1M288.9 244.3l4.1 -4.1M289.9 242.3h4.1M292 240.2v4.1M289.9 240.2l4.1 4.1M289.9 244.3l4.1 -4.1M290.9 242.3h4.1M293 240.3v4.1M290.9 240.3l4.1 4.1M290.9 244.4l4.1 -4.1M291.9 242.4h4.1M294 240.3v4.1M291.9 240.3l4.1 4.1M291.9 244.4l4.1 -4.1M292.9 242.4h4.1M295 240.3v4.1M292.9 240.3l4.1 4.1M292.9 244.5l4.1 -4.1M293.9 242.4h4.1M296 240.4v4.1M293.9 240.4l4.1 4.1M293.9 244.5l4.1 -4.1M294.9 242.5h4.1M297 240.4v4.1M294.9 240.4l4.1 4.1M294.9 244.5l4.1 -4.1M295.9 242.5h4.1M298 240.5v4.1M295.9 240.5l4.1 4.1M295.9 244.6l4.1 -4.1M296.9 242.6h4.1M299 240.5v4.1M296.9 240.5l4.1 4.1M296.9 244.6l4.1 -4.1M297.9 242.6h4.1M300 240.5v4.1M297.9 240.5l4.1 4.1M297.9 244.6l4.1 -4.1M298.9 242.6h4.1M301 240.6v4.1M298.9 240.6l4.1 4.1M298.9 244.7l4.1 -4.1M299.9 242.7h4.1M302 240.6v4.1M299.9 240.6l4.1 4.1M299.9 244.7l4.1 -4.1M300.9 242.7h4.1M303 240.7v4.1M300.9 240.7l4.1 4.1M300.9 244.8l4.1 -4.1M301.9 242.7h4.1M304 240.7v4.1M301.9 240.7l4.1 4.1M301.9 244.8l4.1 -4.1M302.9 242.8h4.1M305 240.7v4.1M302.9 240.7l4.1 4.1M302.9 244.8l4.1 -4.1M303.9 242.8h4.1M306 240.8v4.1M303.9 240.8l4.1 4.1M303.9 244.9l4.1 -4.1M304.9 242.8h4.1M307 240.8v4.1M304.9 240.8l4.1 4.1M304.9 244.9l4.1 -4.1M305.9 242.9h4.1M308 240.8v4.1M305.9 240.8l4.1 4.1M305.9 244.9l4.1 -4.1M306.9 242.9h4.1M309 240.9v4.1M306.9 240.9l4.1 4.1M306.9 245l4.1 -4.1M307.9 243h4.1M310 240.9v4.1M307.9 240.9l4.1 4.1M307.9 245l4.1 -4.1M308.9 243h4.1M311 240.9v4.1M308.9 240.9l4.1 4.1M308.9 245l4.1 -4.1M309.9 243h4.1M312 241v4.1M309.9 241l4.1 4.1M309.9 245.1l4.1 -4.1M310.9 243.1h4.1M313 241v4.1M310.9 241l4.1 4.1M310.9 245.1l4.1 -4.1M311.9 243.1h4.1M314 241v4.1M311.9 241l4.1 4.1M311.9 245.1l4.1 -4.1M312.9 243.1h4.1M315 241.1v4.1M312.9 241.1l4.1 4.1M312.9 245.2l4.1 -4.1M313.9 243.2h4.1M316 241.1v4.1M313.9 241.1l4.1 4.1M313.9 245.2l4.1 -4.1M314.9 243.2h4.1M317 241.1v4.1M314.9 241.1l4.1 4.1M314.9 245.2l4.1 -4.1M315.9 243.2h4.1M318 241.2v4.1M315.9 241.2l4.1 4.1M315.9 245.3l4.1 -4.1M316.9 243.3h4.1M319 241.2v4.1M316.9 241.2l4.1 4.1M316.9 245.3l4.1 -4.1M317.9 243.3h4.1M320 241.2v4.1M317.9 241.2l4.1 4.1M317.9 245.3l4.1 -4.1M318.9 243.3h4.1M321 241.3v4.1M318.9 241.3l4.1 4.1M318.9 245.4l4.1 -4.1M319.9 243.4h4.1M322 241.3v4.1M319.9 241.3l4.1 4.1M319.9 245.4l4.1 -4.1M320.9 243.4h4.1M323 241.3v4.1M320.9 241.3l4.1 4.1M320.9 245.4l4.1 -4.1M321.9 243.4h4.1M324 241.4v4.1M321.9 241.4l4.1 4.1M321.9 245.5l4.1 -4.1M322.9 243.5h4.1M325 241.4v4.1M322.9 241.4l4.1 4.1M322.9 245.5l4.1 -4.1M323.9 243.5h4.1M326 241.4v4.1M323.9 241.4l4.1 4.1M323.9 245.5l4.1 -4.1M324.9 243.5h4.1M327 241.5v4.1M324.9 241.5l4.1 4.1M324.9 245.6l4.1 -4.1M325.9 243.6h4.1M328 241.5v4.1M325.9 241.5l4.1 4.1M325.9 245.6l4.1 -4.1M326.9 243.6h4.1M329 241.5v4.1M326.9 241.5l4.1 4.1M326.9 245.6l4.1 -4.1M327.9 243.6h4.1M330 241.6v4.1M327.9 241.6l4.1 4.1M327.9 245.7l4.1 -4.1M328.9 243.7h4.1M331 241.6v4.1M328.9 241.6l4.1 4.1M328.9 245.7l4.1 -4.1M329.9 243.7h4.1M332 241.6v4.1M329.9 241.6l4.1 4.1M329.9 245.7l4.1 -4.1M330.9 243.7h4.1M333 241.7v4.1M330.9 241.7l4.1 4.1M330.9 245.8l4.1 -4.1M331.9 243.8h4.1M334 241.7v4.1M331.9 241.7l4.1 4.1M331.9 245.8l4.1 -4.1M332.9 243.8h4.1M335 241.7v4.1M332.9 241.7l4.1 4.1M332.9 245.8l4.1 -4.1M333.9 243.8h4.1M336 241.8v4.1M333.9 241.8l4.1 4.1M333.9 245.9l4.1 -4.1M334.9 243.9h4.1M337 241.8v4.1M334.9 241.8l4.1 4.1M334.9 245.9l4.1 -4.1M335.9 243.9h4.1M338 241.9v4.1M335.9 241.9l4.1 4.1M335.9 246l4.1 -4.1M336.9 243.9h4.1M339 241.9v4.1M336.9 241.9l4.1 4.1M336.9 246l4.1 -4.1M337.9 244h4.1M340 241.9v4.1M337.9 241.9l4.1 4.1M337.9 246l4.1 -4.1M338.9 244h4.1M341 242v4.1M338.9 242l4.1 4.1M338.9 246.1l4.1 -4.1M339.9 244.1h4.1M342 242v4.1M339.9 242l4.1 4.1M339.9 246.1l4.1 -4.1M340.9 244.1h4.1M343 242.1v4.1M340.9 242.1l4.1 4.1M340.9 246.2l4.1 -4.1M341.9 244.1h4.1M344 242.1v4.1M341.9 242.1l4.1 4.1M341.9 246.2l4.1 -4.1M342.9 244.2h4.1M345 242.1v4.1M342.9 242.1l4.1 4.1M342.9 246.2l4.1 -4.1M343.9 244.2h4.1M346 242.2v4.1M343.9 242.2l4.1 4.1M343.9 246.3l4.1 -4.1M344.9 244.3h4.1M347 242.2v4.1M344.9 242.2l4.1 4.1M344.9 246.3l4.1 -4.1M345.9 244.3h4.1M348 242.3v4.1M345.9 242.3l4.1 4.1M345.9 246.4l4.1 -4.1M346.9 244.4h4.1M349 242.3v4.1M346.9 242.3l4.1 4.1M346.9 246.4l4.1 -4.1M347.9 244.4h4.1M350 242.3v4.1M347.9 242.3l4.1 4.1M347.9 246.5l4.1 -4.1M348.9 244.4h4.1M351 242.4v4.1M348.9 242.4l4.1 4.1M348.9 246.5l4.1 -4.1M349.9 244.5h4.1M352 242.4v4.1M349.9 242.4l4.1 4.1M349.9 246.5l4.1 -4.1M350.9 244.5h4.1M353 242.5v4.1M350.9 242.5l4.1 4.1M350.9 246.6l4.1 -4.1M351.9 244.6h4.1M354 242.5v4.1M351.9 242.5l4.1 4.1M351.9 246.6l4.1 -4.1M352.9 244.6h4.1M355 242.6v4.1M352.9 242.6l4.1 4.1M352.9 246.7l4.1 -4.1M353.9 244.7h4.1M356 242.6v4.1M353.9 242.6l4.1 4.1M353.9 246.7l4.1 -4.1M354.9 244.7h4.1M357 242.7v4.1M354.9 242.7l4.1 4.1M354.9 246.8l4.1 -4.1M355.9 244.8h4.1M358 242.7v4.1M355.9 242.7l4.1 4.1M355.9 246.8l4.1 -4.1M356.9 244.8h4.1M359 242.8v4.1M356.9 242.8l4.1 4.1M356.9 246.9l4.1 -4.1M357.9 244.9h4.1M360 242.8v4.1M357.9 242.8l4.1 4.1M357.9 246.9l4.1 -4.1M358.9 244.9h4.1M361 242.9v4.1M358.9 242.9l4.1 4.1M358.9 247l4.1 -4.1M359.9 245h4.1M362 243v4.1M359.9 243l4.1 4.1M359.9 247.1l4.1 -4.1M360.9 245.1h4.1M363 243v4.1M360.9 243l4.1 4.1M360.9 247.1l4.1 -4.1M361.9 245.1h4.1M364 243.1v4.1M361.9 243.1l4.1 4.1M361.9 247.2l4.1 -4.1M362.9 245.2h4.1M365 243.1v4.1M362.9 243.1l4.1 4.1M362.9 247.2l4.1 -4.1M363.9 245.2h4.1M366 243.2v4.1M363.9 243.2l4.1 4.1M363.9 247.3l4.1 -4.1M364.9 245.3h4.1M367 243.2v4.1M364.9 243.2l4.1 4.1M364.9 247.3l4.1 -4.1M365.9 245.3h4.1M368 243.3v4.1M365.9 243.3l4.1 4.1M365.9 247.4l4.1 -4.1M366.9 245.4h4.1M369 243.4v4.1M366.9 243.4l4.1 4.1M366.9 247.5l4.1 -4.1M367.9 245.5h4.1M370 243.4v4.1M367.9 243.4l4.1 4.1M367.9 247.5l4.1 -4.1M368.9 245.5h4.1M371 243.5v4.1M368.9 243.5l4.1 4.1M368.9 247.6l4.1 -4.1M369.9 245.6h4.1M372 243.5v4.1M369.9 243.5l4.1 4.1M369.9 247.6l4.1 -4.1M370.9 245.6h4.1M373 243.6v4.1M370.9 243.6l4.1 4.1M370.9 247.7l4.1 -4.1M371.9 245.7h4.1M374 243.6v4.1M371.9 243.6l4.1 4.1M371.9 247.7l4.1 -4.1M372.9 245.8h4.1M375 243.7v4.1M372.9 243.7l4.1 4.1M372.9 247.8l4.1 -4.1M373.9 245.8h4.1M376 243.8v4.1M373.9 243.8l4.1 4.1M373.9 247.9l4.1 -4.1M374.9 245.9h4.1M377 243.8v4.1M374.9 243.8l4.1 4.1M374.9 247.9l4.1 -4.1M375.9 245.9h4.1M378 243.9v4.1M375.9 243.9l4.1 4.1M375.9 248l4.1 -4.1M376.9 246h4.1M379 244v4.1M376.9 244l4.1 4.1M376.9 248.1l4.1 -4.1M377.9 246.1h4.1M380 244v4.1M377.9 244l4.1 4.1M377.9 248.1l4.1 -4.1M378.9 246.1h4.1M381 244.1v4.1M378.9 244.1l4.1 4.1M378.9 248.2l4.1 -4.1M379.9 246.2h4.1M382 244.1v4.1M379.9 244.1l4.1 4.1M379.9 248.2l4.1 -4.1M380.9 246.2h4.1M383 244.2v4.1M380.9 244.2l4.1 4.1M380.9 248.3l4.1 -4.1M381.9 246.3h4.1M384 244.2v4.1M381.9 244.2l4.1 4.1M381.9 248.3l4.1 -4.1M382.9 246.4h4.1M385 244.3v4.1M382.9 244.3l4.1 4.1M382.9 248.4l4.1 -4.1M383.9 246.4h4.1M386 244.4v4.1M383.9 244.4l4.1 4.1M383.9 248.5l4.1 -4.1M384.9 246.5h4.1M387 244.4v4.1M384.9 244.4l4.1 4.1M384.9 248.5l4.1 -4.1M385.9 246.5h4.1M388 244.5v4.1M385.9 244.5l4.1 4.1M385.9 248.6l4.1 -4.1M386.9 246.6h4.1M389 244.5v4.1M386.9 244.5l4.1 4.1M386.9 248.6l4.1 -4.1M387.9 246.6h4.1M390 244.6v4.1M387.9 244.6l4.1 4.1M387.9 248.7l4.1 -4.1M388.9 246.7h4.1M391 244.6v4.1M388.9 244.6l4.1 4.1M388.9 248.7l4.1 -4.1M389.9 246.8h4.1M392 244.7v4.1M389.9 244.7l4.1 4.1M389.9 248.8l4.1 -4.1M390.9 246.8h4.1M393 244.8v4.1M390.9 244.8l4.1 4.1M390.9 248.9l4.1 -4.1M391.9 246.9h4.1M394 244.9v4.1M391.9 244.9l4.1 4.1M391.9 249l4.1 -4.1M392.9 247h4.1M395 245v4.1M392.9 245l4.1 4.1M392.9 249.1l4.1 -4.1M393.9 247.1h4.1M396 245.1v4.1M393.9 245.1l4.1 4.1M393.9 249.2l4.1 -4.1M394.9 247.3h4.1M397 245.2v4.1M394.9 245.2l4.1 4.1M394.9 249.3l4.1 -4.1M395.9 247.4h4.1M398 245.4v4.1M395.9 245.4l4.1 4.1M395.9 249.5l4.1 -4.1M396.9 247.6h4.1M399 245.6v4.1M396.9 245.6l4.1 4.1M396.9 249.7l4.1 -4.1M397.9 247.8h4.1M400 245.7v4.1M397.9 245.7l4.1 4.1M397.9 249.8l4.1 -4.1M398.9 248h4.1M401 245.9v4.1M398.9 245.9l4.1 4.1M398.9 250l4.1 -4.1M399.9 248.2h4.1M402 246.1v4.1M399.9 246.1l4.1 4.1M399.9 250.2l4.1 -4.1M400.9 248.4h4.1M403 246.4v4.1M400.9 246.4l4.1 4.1M400.9 250.5l4.1 -4.1M401.9 248.6h4.1M404 246.6v4.1M401.9 246.6l4.1 4.1M401.9 250.7l4.1 -4.1M402.9 248.8h4.1M405 246.8v4.1M402.9 246.8l4.1 4.1M402.9 250.9l4.1 -4.1M403.9 249h4.1M406 247v4.1M403.9 247l4.1 4.1M403.9 251.1l4.1 -4.1M404.9 249.2h4.1M407 247.2v4.1M404.9 247.2l4.1 4.1M404.9 251.3l4.1 -4.1M405.9 249.4h4.1M408 247.4v4.1M405.9 247.4l4.1 4.1M405.9 251.5l4.1 -4.1M406.9 249.6h4.1M409 247.6v4.1M406.9 247.6l4.1 4.1M406.9 251.7l4.1 -4.1M407.9 249.8h4.1M410 247.8v4.1M407.9 247.8l4.1 4.1M407.9 251.9l4.1 -4.1M408.9 250h4.1M411 248v4.1M408.9 248l4.1 4.1M408.9 252.1l4.1 -4.1M409.9 250.2h4.1M412 248.2v4.1M409.9 248.2l4.1 4.1M409.9 252.3l4.1 -4.1M410.9 250.4h4.1M413 248.4v4.1M410.9 248.4l4.1 4.1M410.9 252.5l4.1 -4.1M411.9 250.6h4.1M414 248.5v4.1M411.9 248.5l4.1 4.1M411.9 252.6l4.1 -4.1M412.9 250.8h4.1M415 248.7v4.1M412.9 248.7l4.1 4.1M412.9 252.8l4.1 -4.1M413.9 251h4.1M416 248.9v4.1M413.9 248.9l4.1 4.1M413.9 253l4.1 -4.1M414.9 251.2h4.1M417 249.1v4.1M414.9 249.1l4.1 4.1M414.9 253.2l4.1 -4.1M415.9 251.4h4.1M418 249.3v4.1M415.9 249.3l4.1 4.1M415.9 253.4l4.1 -4.1M416.9 251.6h4.1M419 249.5v4.1M416.9 249.5l4.1 4.1M416.9 253.6l4.1 -4.1M417.9 251.8h4.1M420 249.7v4.1M417.9 249.7l4.1 4.1M417.9 253.8l4.1 -4.1M418.9 252h4.1M421 249.9v4.1M418.9 249.9l4.1 4.1M418.9 254.1l4.1 -4.1" fill="none" stroke="#0000ff" stroke-width="0.7"/>
<path d="M70 177.4 71 179.2 72 180.9 73 182.5 74 183.8 75 184.9 76 185.8 77 186.6 78 187.3 79 188 80 188.6 81 189.2 82 189.7 83 190.2 84 190.6 85 191.1 86 191.5 87 192 88 192.3 89 192.7 90 193.1 91 193.4 92 193.8 93 194.1 94 194.4 95 194.7 96 195 97 195.3 98 195.6 99 195.8 100 196.1 101 196.3 102 196.6 103 196.8 104 197 105 197.2 106 197.4 107 197.6 108 197.8 109 198 110 198.2 111 198.4 112 198.6 113 198.8 114 199.1 115 199.3 116 199.6 117 199.9 118 200.3 119 200.9 120 201.8 121 202.2 122 202 123 201.6 124 201.2 125 201.3 126 202.1 127 203.1 128 203.9 129 204.3 130 204.2 131 203.9 132 203.6 133 203.4 134 203.5 135 204.2 136 205.2 137 206.1 138 206.5 139 206.4 140 206.3 141 206 142 205.8 143 205.7 144 205.8 145 206.3 146 207 147 207.8 148 208.4 149 208.8 150 209 151 209.2 152 209.3 153 209.4 154 209.5 155 209.5 156 209.3 157 209.2 158 209 159 208.8 160 208.8 161 209.1 162 209.8 163 210.6 164 211.4 165 212.3 166 212.9 167 213.3 168 213.5 169 213.6 170 213.7 171 213.8 172 213.9 173 214 174 214.1 175 214.2 176 214.2 177 214.3 178 214.4 179 214.5 180 214.7 181 214.8 182 215 183 215.1 184 215.3 185 215.5 186 215.7 187 215.9 188 216.1 189 216.3 190 216.5 191 216.7 192 216.9 193 217.1 194 217.3 195 217.5 196 217.7 197 217.8 198 218 199 218.1 200 218.3 201 218.4 202 218.6 203 218.8 204 218.9 205 219 206 219.2 207 219.3 208 219.5 209 219.6 210 219.7 211 219.9 212 220 213 220.2 214 220.3 215 220.4 216 220.5 217 220.7 218 220.8 219 220.9 220 221 221 221.2 222 221.3 223 221.4 224 221.5 225 221.6 226 221.7 227 221.9 228 222 229 222.1 230 222.2 231 222.3 232 222.4 233 222.5 234 222.6 235 222.7 236 222.8 237 222.9 238 223 239 223.1 240 223.2 241 223.3 242 223.4 243 223.5 244 223.6 245 223.7 246 223.8 247 223.8 248 223.9 249 224 250 224.1 251 224.2 252 224.3 253 224.4 254 224.4 255 224.5 256 224.6 257 224.7 258 224.8 259 224.9 260 224.9 261 225 262 225.1 263 225.2 264 225.2 265 225.3 266 225.4 267 225.5 268 225.5 269 225.6 270 225.7 271 225.8 272 225.8 273 225.9 274 226 275 226 276 226.1 277 226.2 278 226.2 279 226.3 280 226.4 281 226.5 282 226.5 283 226.6 284 226.7 285 226.7 286 226.8 287 226.9 288 226.9 289 227 290 227.1 291 227.1 292 227.2 293 227.3 294 227.3 295 227.4 296 227.5 297 227.5 298 227.6 299 227.7 300 227.7 301 227.8 302 227.9 303 227.9 304 228 305 228.1 306 228.1 307 228.2 308 228.2 309 228.3 310 228.4 311 228.4 312 228.5 313 228.5 314 228.6 315 228.7 316 228.7 317 228.8 318 228.8 319 228.9 320 229 321 229 322 229.1 323 229.1 324 229.2 325 229.3 326 229.3 327 229.4 328 229.4 329 229.5 330 229.6 331 229.6 332 229.7 333 229.7 334 229.8 335 229.8 336 229.9 337 230 338 230 339 230.1 340 230.1 341 230.2 342 230.2 343 230.3 344 230.4 345 230.4 346 230.5 347 230.5 348 230.6 349 230.6 350 230.7 351 230.8 352 230.8 353 230.9 354 230.9 355 231 356 231 357 231.1 358 231.1 359 231.2 360 231.3 361 231.3 362 231.4 363 231.4 364 231.5 365 231.5 366 231.6 367 231.6 368 231.7 369 231.7 370 231.8 371 231.9 372 231.9 373 232 374 232 375 232.1 376 232.1 377 232.2 378 232.2 379 232.3 380 232.4 381 232.4 382 232.5 383 232.5 384 232.6 385 232.7 386 232.7 387 232.8 388 232.8 389 232.9 390 232.9 391 233 392 233.1 393 233.1 394 233.2 395 233.3 396 233.4 397 233.6 398 233.7 399 233.9 400 234.1 401 234.3 402 234.5 403 234.7 404 234.9 405 235.1 406 235.3 407 235.5 408 235.7 409 235.9 410 236.2 411 236.4 412 236.6 413 236.8 414 237 415 237.3 416 237.5 417 237.7 418 238 419 238.2 420 238.5 421 238.7" fill="none" stroke="#ff00ff" stroke-width="0.75" stroke-dasharray="1.5 1.1"/>
<path d="M67.7 175.1h4.7v4.7h-4.7zM68.7 176.8h4.7v4.7h-4.7zM69.7 178.5h4.7v4.7h-4.7zM70.7 180.1h4.7v4.7h-4.7zM71.7 181.5h4.7v4.7h-4.7zM72.7 182.6h4.7v4.7h-4.7zM73.7 183.4h4.7v4.7h-4.7zM74.7 184.2h4.7v4.7h-4.7zM75.7 185h4.7v4.7h-4.7zM76.7 185.6h4.7v4.7h-4.7zM77.7 186.2h4.7v4.7h-4.7zM78.7 186.8h4.7v4.7h-4.7zM79.7 187.3h4.7v4.7h-4.7zM80.7 187.8h4.7v4.7h-4.7zM81.7 188.3h4.7v4.7h-4.7zM82.7 188.8h4.7v4.7h-4.7zM83.7 189.2h4.7v4.7h-4.7zM84.7 189.6h4.7v4.7h-4.7zM85.7 190h4.7v4.7h-4.7zM86.7 190.4h4.7v4.7h-4.7zM87.7 190.7h4.7v4.7h-4.7zM88.7 191.1h4.7v4.7h-4.7zM89.7 191.4h4.7v4.7h-4.7zM90.7 191.7h4.7v4.7h-4.7zM91.7 192h4.7v4.7h-4.7zM92.7 192.3h4.7v4.7h-4.7zM93.7 192.6h4.7v4.7h-4.7zM94.7 192.9h4.7v4.7h-4.7zM95.7 193.2h4.7v4.7h-4.7zM96.7 193.5h4.7v4.7h-4.7zM97.7 193.8h4.7v4.7h-4.7zM98.7 194h4.7v4.7h-4.7zM99.7 194.2h4.7v4.7h-4.7zM100.7 194.4h4.7v4.7h-4.7zM101.7 194.6h4.7v4.7h-4.7zM102.7 194.8h4.7v4.7h-4.7zM103.7 195h4.7v4.7h-4.7zM104.7 195.2h4.7v4.7h-4.7zM105.7 195.4h4.7v4.7h-4.7zM106.7 195.7h4.7v4.7h-4.7zM107.7 195.9h4.7v4.7h-4.7zM108.7 196.1h4.7v4.7h-4.7zM109.7 196.3h4.7v4.7h-4.7zM110.7 196.5h4.7v4.7h-4.7zM111.7 196.7h4.7v4.7h-4.7zM112.7 197h4.7v4.7h-4.7zM113.7 197.2h4.7v4.7h-4.7zM114.7 197.5h4.7v4.7h-4.7zM115.7 197.9h4.7v4.7h-4.7zM116.7 198.6h4.7v4.7h-4.7zM117.7 199.4h4.7v4.7h-4.7zM118.7 199.8h4.7v4.7h-4.7zM119.7 199.6h4.7v4.7h-4.7zM120.7 199.2h4.7v4.7h-4.7zM121.7 198.9h4.7v4.7h-4.7zM122.7 199h4.7v4.7h-4.7zM123.7 199.7h4.7v4.7h-4.7zM124.7 200.7h4.7v4.7h-4.7zM125.7 201.6h4.7v4.7h-4.7zM126.7 202h4.7v4.7h-4.7zM127.7 201.8h4.7v4.7h-4.7zM128.7 201.6h4.7v4.7h-4.7zM129.7 201.3h4.7v4.7h-4.7zM130.7 201.1h4.7v4.7h-4.7zM131.7 201.2h4.7v4.7h-4.7zM132.7 201.9h4.7v4.7h-4.7zM133.7 202.9h4.7v4.7h-4.7zM134.7 203.8h4.7v4.7h-4.7zM135.7 204.2h4.7v4.7h-4.7zM136.7 204.1h4.7v4.7h-4.7zM137.7 203.9h4.7v4.7h-4.7zM138.7 203.7h4.7v4.7h-4.7zM139.7 203.5h4.7v4.7h-4.7zM140.7 203.4h4.7v4.7h-4.7zM141.7 203.4h4.7v4.7h-4.7zM142.7 203.9h4.7v4.7h-4.7zM143.7 204.6h4.7v4.7h-4.7zM144.7 205.4h4.7v4.7h-4.7zM145.7 206.1h4.7v4.7h-4.7zM146.7 206.5h4.7v4.7h-4.7zM147.7 206.7h4.7v4.7h-4.7zM148.7 206.9h4.7v4.7h-4.7zM149.7 207h4.7v4.7h-4.7zM150.7 207.1h4.7v4.7h-4.7zM151.7 207.1h4.7v4.7h-4.7zM152.7 207.1h4.7v4.7h-4.7zM153.7 207h4.7v4.7h-4.7zM154.7 206.8h4.7v4.7h-4.7zM155.7 206.6h4.7v4.7h-4.7zM156.7 206.5h4.7v4.7h-4.7zM157.7 206.5h4.7v4.7h-4.7zM158.7 206.8h4.7v4.7h-4.7zM159.7 207.4h4.7v4.7h-4.7zM160.7 208.2h4.7v4.7h-4.7zM161.7 209.1h4.7v4.7h-4.7zM162.7 209.9h4.7v4.7h-4.7zM163.7 210.6h4.7v4.7h-4.7zM164.7 211h4.7v4.7h-4.7zM165.7 211.1h4.7v4.7h-4.7zM166.7 211.3h4.7v4.7h-4.7zM167.7 211.4h4.7v4.7h-4.7zM168.7 211.5h4.7v4.7h-4.7zM169.7 211.6h4.7v4.7h-4.7zM170.7 211.7h4.7v4.7h-4.7zM171.7 211.7h4.7v4.7h-4.7zM172.7 211.8h4.7v4.7h-4.7zM173.7 211.9h4.7v4.7h-4.7zM174.7 212h4.7v4.7h-4.7zM175.7 212.1h4.7v4.7h-4.7zM176.7 212.2h4.7v4.7h-4.7zM177.7 212.3h4.7v4.7h-4.7zM178.7 212.5h4.7v4.7h-4.7zM179.7 212.6h4.7v4.7h-4.7zM180.7 212.8h4.7v4.7h-4.7zM181.7 213h4.7v4.7h-4.7zM182.7 213.2h4.7v4.7h-4.7zM183.7 213.4h4.7v4.7h-4.7zM184.7 213.6h4.7v4.7h-4.7zM185.7 213.7h4.7v4.7h-4.7zM186.7 213.9h4.7v4.7h-4.7zM187.7 214.2h4.7v4.7h-4.7zM188.7 214.4h4.7v4.7h-4.7zM189.7 214.6h4.7v4.7h-4.7zM190.7 214.8h4.7v4.7h-4.7zM191.7 215h4.7v4.7h-4.7zM192.7 215.2h4.7v4.7h-4.7zM193.7 215.3h4.7v4.7h-4.7zM194.7 215.5h4.7v4.7h-4.7zM195.7 215.6h4.7v4.7h-4.7zM196.7 215.8h4.7v4.7h-4.7zM197.7 215.9h4.7v4.7h-4.7zM198.7 216.1h4.7v4.7h-4.7zM199.7 216.3h4.7v4.7h-4.7zM200.7 216.4h4.7v4.7h-4.7zM201.7 216.5h4.7v4.7h-4.7zM202.7 216.7h4.7v4.7h-4.7zM203.7 216.8h4.7v4.7h-4.7zM204.7 217h4.7v4.7h-4.7zM205.7 217.1h4.7v4.7h-4.7zM206.7 217.3h4.7v4.7h-4.7zM207.7 217.4h4.7v4.7h-4.7zM208.7 217.5h4.7v4.7h-4.7zM209.7 217.7h4.7v4.7h-4.7zM210.7 217.8h4.7v4.7h-4.7zM211.7 217.9h4.7v4.7h-4.7zM212.7 218.1h4.7v4.7h-4.7zM213.7 218.2h4.7v4.7h-4.7zM214.7 218.3h4.7v4.7h-4.7zM215.7 218.4h4.7v4.7h-4.7zM216.7 218.6h4.7v4.7h-4.7zM217.7 218.7h4.7v4.7h-4.7zM218.7 218.8h4.7v4.7h-4.7zM219.7 218.9h4.7v4.7h-4.7zM220.7 219h4.7v4.7h-4.7zM221.7 219.2h4.7v4.7h-4.7zM222.7 219.3h4.7v4.7h-4.7zM223.7 219.4h4.7v4.7h-4.7zM224.7 219.5h4.7v4.7h-4.7zM225.7 219.6h4.7v4.7h-4.7zM226.7 219.7h4.7v4.7h-4.7zM227.7 219.8h4.7v4.7h-4.7zM228.7 219.9h4.7v4.7h-4.7zM229.7 220h4.7v4.7h-4.7zM230.7 220.2h4.7v4.7h-4.7zM231.7 220.3h4.7v4.7h-4.7zM232.7 220.4h4.7v4.7h-4.7zM233.7 220.5h4.7v4.7h-4.7zM234.7 220.6h4.7v4.7h-4.7zM235.7 220.7h4.7v4.7h-4.7zM236.7 220.8h4.7v4.7h-4.7zM237.7 220.8h4.7v4.7h-4.7zM238.7 220.9h4.7v4.7h-4.7zM239.7 221h4.7v4.7h-4.7zM240.7 221.1h4.7v4.7h-4.7zM241.7 221.2h4.7v4.7h-4.7zM242.7 221.3h4.7v4.7h-4.7zM243.7 221.4h4.7v4.7h-4.7zM244.7 221.5h4.7v4.7h-4.7zM245.7 221.6h4.7v4.7h-4.7zM246.7 221.7h4.7v4.7h-4.7zM247.7 221.8h4.7v4.7h-4.7zM248.7 221.8h4.7v4.7h-4.7zM249.7 221.9h4.7v4.7h-4.7zM250.7 222h4.7v4.7h-4.7zM251.7 222.1h4.7v4.7h-4.7zM252.7 222.2h4.7v4.7h-4.7zM253.7 222.3h4.7v4.7h-4.7zM254.7 222.3h4.7v4.7h-4.7zM255.7 222.4h4.7v4.7h-4.7zM256.6 222.5h4.7v4.7h-4.7zM257.6 222.6h4.7v4.7h-4.7zM258.6 222.7h4.7v4.7h-4.7zM259.6 222.7h4.7v4.7h-4.7zM260.6 222.8h4.7v4.7h-4.7zM261.6 222.9h4.7v4.7h-4.7zM262.6 223h4.7v4.7h-4.7zM263.6 223h4.7v4.7h-4.7zM264.6 223.1h4.7v4.7h-4.7zM265.6 223.2h4.7v4.7h-4.7zM266.6 223.3h4.7v4.7h-4.7zM267.6 223.3h4.7v4.7h-4.7zM268.6 223.4h4.7v4.7h-4.7zM269.6 223.5h4.7v4.7h-4.7zM270.6 223.5h4.7v4.7h-4.7zM271.6 223.6h4.7v4.7h-4.7zM272.6 223.7h4.7v4.7h-4.7zM273.6 223.8h4.7v4.7h-4.7zM274.6 223.8h4.7v4.7h-4.7zM275.6 223.9h4.7v4.7h-4.7zM276.6 224h4.7v4.7h-4.7zM277.6 224h4.7v4.7h-4.7zM278.6 224.1h4.7v4.7h-4.7zM279.6 224.2h4.7v4.7h-4.7zM280.6 224.2h4.7v4.7h-4.7zM281.6 224.3h4.7v4.7h-4.7zM282.6 224.4h4.7v4.7h-4.7zM283.6 224.4h4.7v4.7h-4.7zM284.6 224.5h4.7v4.7h-4.7zM285.6 224.6h4.7v4.7h-4.7zM286.6 224.6h4.7v4.7h-4.7zM287.6 224.7h4.7v4.7h-4.7zM288.6 224.8h4.7v4.7h-4.7zM289.6 224.8h4.7v4.7h-4.7zM290.6 224.9h4.7v4.7h-4.7zM291.6 225h4.7v4.7h-4.7zM292.6 225.1h4.7v4.7h-4.7zM293.6 225.1h4.7v4.7h-4.7zM294.6 225.2h4.7v4.7h-4.7zM295.6 225.2h4.7v4.7h-4.7zM296.6 225.3h4.7v4.7h-4.7zM297.6 225.4h4.7v4.7h-4.7zM298.6 225.4h4.7v4.7h-4.7zM299.6 225.5h4.7v4.7h-4.7zM300.6 225.6h4.7v4.7h-4.7zM301.6 225.6h4.7v4.7h-4.7zM302.6 225.7h4.7v4.7h-4.7zM303.6 225.8h4.7v4.7h-4.7zM304.6 225.8h4.7v4.7h-4.7zM305.6 225.9h4.7v4.7h-4.7zM306.6 226h4.7v4.7h-4.7zM307.6 226h4.7v4.7h-4.7zM308.6 226.1h4.7v4.7h-4.7zM309.6 226.1h4.7v4.7h-4.7zM310.6 226.2h4.7v4.7h-4.7zM311.6 226.3h4.7v4.7h-4.7zM312.6 226.3h4.7v4.7h-4.7zM313.6 226.4h4.7v4.7h-4.7zM314.6 226.4h4.7v4.7h-4.7zM315.6 226.5h4.7v4.7h-4.7zM316.6 226.6h4.7v4.7h-4.7zM317.6 226.6h4.7v4.7h-4.7zM318.6 226.7h4.7v4.7h-4.7zM319.6 226.7h4.7v4.7h-4.7zM320.6 226.8h4.7v4.7h-4.7zM321.6 226.9h4.7v4.7h-4.7zM322.6 226.9h4.7v4.7h-4.7zM323.6 227h4.7v4.7h-4.7zM324.6 227h4.7v4.7h-4.7zM325.6 227.1h4.7v4.7h-4.7zM326.6 227.1h4.7v4.7h-4.7zM327.6 227.2h4.7v4.7h-4.7zM328.6 227.3h4.7v4.7h-4.7zM329.6 227.3h4.7v4.7h-4.7zM330.6 227.4h4.7v4.7h-4.7zM331.6 227.4h4.7v4.7h-4.7zM332.6 227.5h4.7v4.7h-4.7zM333.6 227.5h4.7v4.7h-4.7zM334.6 227.6h4.7v4.7h-4.7zM335.6 227.7h4.7v4.7h-4.7zM336.6 227.7h4.7v4.7h-4.7zM337.6 227.8h4.7v4.7h-4.7zM338.6 227.8h4.7v4.7h-4.7zM339.6 227.9h4.7v4.7h-4.7zM340.6 227.9h4.7v4.7h-4.7zM341.6 228h4.7v4.7h-4.7zM342.6 228.1h4.7v4.7h-4.7zM343.6 228.1h4.7v4.7h-4.7zM344.6 228.2h4.7v4.7h-4.7zM345.6 228.2h4.7v4.7h-4.7zM346.6 228.3h4.7v4.7h-4.7zM347.6 228.3h4.7v4.7h-4.7zM348.6 228.4h4.7v4.7h-4.7zM349.6 228.5h4.7v4.7h-4.7zM350.6 228.5h4.7v4.7h-4.7zM351.6 228.6h4.7v4.7h-4.7zM352.6 228.6h4.7v4.7h-4.7zM353.6 228.7h4.7v4.7h-4.7zM354.6 228.7h4.7v4.7h-4.7zM355.6 228.8h4.7v4.7h-4.7zM356.6 228.9h4.7v4.7h-4.7zM357.6 228.9h4.7v4.7h-4.7zM358.6 229h4.7v4.7h-4.7zM359.6 229h4.7v4.7h-4.7zM360.6 229.1h4.7v4.7h-4.7zM361.6 229.1h4.7v4.7h-4.7zM362.6 229.2h4.7v4.7h-4.7zM363.6 229.2h4.7v4.7h-4.7zM364.6 229.3h4.7v4.7h-4.7zM365.6 229.3h4.7v4.7h-4.7zM366.6 229.4h4.7v4.7h-4.7zM367.6 229.4h4.7v4.7h-4.7zM368.6 229.5h4.7v4.7h-4.7zM369.6 229.6h4.7v4.7h-4.7zM370.6 229.6h4.7v4.7h-4.7zM371.6 229.7h4.7v4.7h-4.7zM372.6 229.7h4.7v4.7h-4.7zM373.6 229.8h4.7v4.7h-4.7zM374.6 229.8h4.7v4.7h-4.7zM375.6 229.9h4.7v4.7h-4.7zM376.6 230h4.7v4.7h-4.7zM377.6 230h4.7v4.7h-4.7zM378.6 230.1h4.7v4.7h-4.7zM379.6 230.1h4.7v4.7h-4.7zM380.6 230.2h4.7v4.7h-4.7zM381.6 230.2h4.7v4.7h-4.7zM382.6 230.3h4.7v4.7h-4.7zM383.6 230.4h4.7v4.7h-4.7zM384.6 230.4h4.7v4.7h-4.7zM385.6 230.5h4.7v4.7h-4.7zM386.6 230.5h4.7v4.7h-4.7zM387.6 230.6h4.7v4.7h-4.7zM388.6 230.6h4.7v4.7h-4.7zM389.6 230.7h4.7v4.7h-4.7zM390.6 230.8h4.7v4.7h-4.7zM391.6 230.9h4.7v4.7h-4.7zM392.6 231h4.7v4.7h-4.7zM393.6 231.1h4.7v4.7h-4.7zM394.6 231.2h4.7v4.7h-4.7zM395.6 231.4h4.7v4.7h-4.7zM396.6 231.5h4.7v4.7h-4.7zM397.6 231.7h4.7v4.7h-4.7zM398.6 231.9h4.7v4.7h-4.7zM399.6 232.1h4.7v4.7h-4.7zM400.6 232.3h4.7v4.7h-4.7zM401.6 232.6h4.7v4.7h-4.7zM402.6 232.8h4.7v4.7h-4.7zM403.6 233h4.7v4.7h-4.7zM404.6 233.2h4.7v4.7h-4.7zM405.6 233.4h4.7v4.7h-4.7zM406.6 233.6h4.7v4.7h-4.7zM407.6 233.8h4.7v4.7h-4.7zM408.6 234h4.7v4.7h-4.7zM409.6 234.2h4.7v4.7h-4.7zM410.6 234.5h4.7v4.7h-4.7zM411.6 234.7h4.7v4.7h-4.7zM412.6 234.9h4.7v4.7h-4.7zM413.6 235.1h4.7v4.7h-4.7zM414.6 235.4h4.7v4.7h-4.7zM415.6 235.6h4.7v4.7h-4.7zM416.6 235.9h4.7v4.7h-4.7zM417.6 236.1h4.7v4.7h-4.7zM418.6 236.4h4.7v4.7h-4.7z" fill="none" stroke="#ff00ff" stroke-width="0.55"/>
<path d="M70 150 71 151.4 72 152.7 73 154 74 155.2 75 156.2 76 157.1 77 158 78 158.8 79 159.6 80 160.3 81 161 82 161.7 83 162.4 84 163 85 163.7 86 164.4 87 165 88 165.7 89 166.4 90 167 91 167.7 92 168.3 93 168.9 94 169.5 95 170 96 170.5 97 171 98 171.5 99 171.9 100 172.3 101 172.7 102 173 103 173.4 104 173.7 105 174.1 106 174.4 107 174.7 108 175 109 175.3 110 175.6 111 175.9 112 176.3 113 176.6 114 176.9 115 177.1 116 177.2 117 177.2 118 177.1 119 177 120 176.9 121 177.3 122 178.3 123 179.4 124 180.2 125 180.2 126 179.9 127 179.3 128 178.8 129 178.6 130 179.2 131 180.6 132 182 133 182.8 134 182.7 135 182.2 136 181.6 137 181 138 180.8 139 181.4 140 182.8 141 184.3 142 185.5 143 185.7 144 185.4 145 185 146 184.6 147 184.4 148 184.7 149 185.5 150 186.4 151 187.3 152 187.6 153 187.3 154 186.7 155 186 156 185.4 157 185.3 158 185.8 159 186.8 160 188.1 161 189.3 162 190.4 163 191.2 164 191.9 165 192.6 166 193.2 167 193.7 168 193.8 169 193.6 170 193.2 171 192.7 172 192.3 173 192 174 192.1 175 192.5 176 193.2 177 194 178 194.8 179 195.4 180 195.8 181 196.1 182 196.3 183 196.5 184 196.7 185 196.8 186 197 187 197.1 188 197.3 189 197.5 190 197.7 191 197.9 192 198.1 193 198.3 194 198.5 195 198.7 196 198.9 197 199.1 198 199.3 199 199.5 200 199.7 201 199.9 202 200.1 203 200.3 204 200.5 205 200.7 206 200.9 207 201.1 208 201.3 209 201.5 210 201.7 211 201.9 212 202.1 213 202.3 214 202.5 215 202.6 216 202.8 217 203 218 203.2 219 203.4 220 203.6 221 203.8 222 204 223 204.1 224 204.3 225 204.5 226 204.7 227 204.9 228 205 229 205.2 230 205.4 231 205.5 232 205.7 233 205.9 234 206 235 206.2 236 206.3 237 206.5 238 206.6 239 206.8 240 206.9 241 207 242 207.2 243 207.3 244 207.4 245 207.6 246 207.7 247 207.8 248 208 249 208.1 250 208.2 251 208.3 252 208.4 253 208.6 254 208.7 255 208.8 256 208.9 257 209 258 209.1 259 209.3 260 209.4 261 209.5 262 209.6 263 209.7 264 209.8 265 209.9 266 210 267 210.1 268 210.2 269 210.3 270 210.4 271 210.6 272 210.7 273 210.8 274 210.9 275 211 276 211.1 277 211.2 278 211.3 279 211.4 280 211.5 281 211.6 282 211.6 283 211.7 284 211.8 285 211.9 286 212 287 212.1 288 212.2 289 212.3 290 212.4 291 212.5 292 212.6 293 212.7 294 212.8 295 212.9 296 213 297 213.1 298 213.2 299 213.3 300 213.4 301 213.5 302 213.6 303 213.7 304 213.8 305 213.8 306 213.9 307 214 308 214.1 309 214.2 310 214.3 311 214.4 312 214.5 313 214.6 314 214.7 315 214.8 316 214.9 317 215 318 215 319 215.1 320 215.2 321 215.3 322 215.4 323 215.5 324 215.6 325 215.7 326 215.7 327 215.8 328 215.9 329 216 330 216.1 331 216.2 332 216.2 333 216.3 334 216.4 335 216.5 336 216.6 337 216.6 338 216.7 339 216.8 340 216.9 341 216.9 342 217 343 217.1 344 217.2 345 217.2 346 217.3 347 217.4 348 217.5 349 217.5 350 217.6 351 217.7 352 217.7 353 217.8 354 217.9 355 217.9 356 218 357 218 358 218.1 359 218.2 360 218.2 361 218.3 362 218.3 363 218.4 364 218.4 365 218.5 366 218.5 367 218.6 368 218.6 369 218.7 370 218.7 371 218.8 372 218.8 373 218.9 374 219 375 219 376 219.1 377 219.1 378 219.2 379 219.3 380 219.3 381 219.4 382 219.5 383 219.6 384 219.6 385 219.7 386 219.8 387 219.8 388 219.9 389 220 390 220.1 391 220.2 392 220.3 393 220.4 394 220.5 395 220.6 396 220.8 397 220.9 398 221.1 399 221.3 400 221.5 401 221.7 402 222 403 222.2 404 222.4 405 222.7 406 222.9 407 223.1 408 223.4 409 223.6 410 223.8 411 224.1 412 224.3 413 224.6 414 224.8 415 225.1 416 225.3 417 225.6 418 225.9 419 226.1 420 226.4 421 226.7" fill="none" stroke="#00ffff" stroke-width="0.75" stroke-dasharray="3 1 0.8 1"/>
<path d="M68 147.9h4.1v4.1h-4.1zM69 149.3h4.1v4.1h-4.1zM70 150.7h4.1v4.1h-4.1zM71 151.9h4.1v4.1h-4.1zM72 153.1h4.1v4.1h-4.1zM73 154.1h4.1v4.1h-4.1zM74 155.1h4.1v4.1h-4.1zM75 155.9h4.1v4.1h-4.1zM76 156.8h4.1v4.1h-4.1zM77 157.5h4.1v4.1h-4.1zM78 158.3h4.1v4.1h-4.1zM79 159h4.1v4.1h-4.1zM80 159.6h4.1v4.1h-4.1zM81 160.3h4.1v4.1h-4.1zM82 161h4.1v4.1h-4.1zM83 161.6h4.1v4.1h-4.1zM84 162.3h4.1v4.1h-4.1zM85 163h4.1v4.1h-4.1zM86 163.7h4.1v4.1h-4.1zM87 164.3h4.1v4.1h-4.1zM88 165h4.1v4.1h-4.1zM89 165.6h4.1v4.1h-4.1zM90 166.3h4.1v4.1h-4.1zM91 166.9h4.1v4.1h-4.1zM92 167.4h4.1v4.1h-4.1zM93 168h4.1v4.1h-4.1zM94 168.5h4.1v4.1h-4.1zM95 169h4.1v4.1h-4.1zM96 169.4h4.1v4.1h-4.1zM97 169.8h4.1v4.1h-4.1zM98 170.2h4.1v4.1h-4.1zM99 170.6h4.1v4.1h-4.1zM100 171h4.1v4.1h-4.1zM101 171.4h4.1v4.1h-4.1zM102 171.7h4.1v4.1h-4.1zM103 172h4.1v4.1h-4.1zM104 172.3h4.1v4.1h-4.1zM105 172.7h4.1v4.1h-4.1zM106 173h4.1v4.1h-4.1zM107 173.3h4.1v4.1h-4.1zM108 173.5h4.1v4.1h-4.1zM109 173.9h4.1v4.1h-4.1zM110 174.2h4.1v4.1h-4.1zM111 174.5h4.1v4.1h-4.1zM112 174.8h4.1v4.1h-4.1zM113 175h4.1v4.1h-4.1zM114 175.1h4.1v4.1h-4.1zM115 175.1h4.1v4.1h-4.1zM116 175h4.1v4.1h-4.1zM117 174.9h4.1v4.1h-4.1zM118 174.8h4.1v4.1h-4.1zM119 175.3h4.1v4.1h-4.1zM120 176.3h4.1v4.1h-4.1zM121 177.4h4.1v4.1h-4.1zM122 178.1h4.1v4.1h-4.1zM123 178.2h4.1v4.1h-4.1zM124 177.8h4.1v4.1h-4.1zM125 177.3h4.1v4.1h-4.1zM126 176.8h4.1v4.1h-4.1zM127 176.5h4.1v4.1h-4.1zM128 177.2h4.1v4.1h-4.1zM128.9 178.5h4.1v4.1h-4.1zM129.9 179.9h4.1v4.1h-4.1zM130.9 180.7h4.1v4.1h-4.1zM131.9 180.6h4.1v4.1h-4.1zM132.9 180.1h4.1v4.1h-4.1zM133.9 179.5h4.1v4.1h-4.1zM134.9 179h4.1v4.1h-4.1zM135.9 178.8h4.1v4.1h-4.1zM136.9 179.3h4.1v4.1h-4.1zM137.9 180.7h4.1v4.1h-4.1zM138.9 182.3h4.1v4.1h-4.1zM139.9 183.4h4.1v4.1h-4.1zM140.9 183.6h4.1v4.1h-4.1zM141.9 183.4h4.1v4.1h-4.1zM142.9 182.9h4.1v4.1h-4.1zM143.9 182.5h4.1v4.1h-4.1zM144.9 182.4h4.1v4.1h-4.1zM145.9 182.6h4.1v4.1h-4.1zM146.9 183.4h4.1v4.1h-4.1zM147.9 184.4h4.1v4.1h-4.1zM148.9 185.2h4.1v4.1h-4.1zM149.9 185.5h4.1v4.1h-4.1zM150.9 185.3h4.1v4.1h-4.1zM151.9 184.7h4.1v4.1h-4.1zM152.9 183.9h4.1v4.1h-4.1zM153.9 183.4h4.1v4.1h-4.1zM154.9 183.3h4.1v4.1h-4.1zM155.9 183.8h4.1v4.1h-4.1zM156.9 184.8h4.1v4.1h-4.1zM157.9 186h4.1v4.1h-4.1zM158.9 187.3h4.1v4.1h-4.1zM159.9 188.3h4.1v4.1h-4.1zM160.9 189.1h4.1v4.1h-4.1zM161.9 189.9h4.1v4.1h-4.1zM162.9 190.6h4.1v4.1h-4.1zM163.9 191.2h4.1v4.1h-4.1zM164.9 191.6h4.1v4.1h-4.1zM165.9 191.7h4.1v4.1h-4.1zM166.9 191.6h4.1v4.1h-4.1zM167.9 191.1h4.1v4.1h-4.1zM168.9 190.7h4.1v4.1h-4.1zM169.9 190.2h4.1v4.1h-4.1zM170.9 190h4.1v4.1h-4.1zM171.9 190.1h4.1v4.1h-4.1zM172.9 190.5h4.1v4.1h-4.1zM173.9 191.2h4.1v4.1h-4.1zM174.9 192h4.1v4.1h-4.1zM175.9 192.7h4.1v4.1h-4.1zM176.9 193.4h4.1v4.1h-4.1zM177.9 193.7h4.1v4.1h-4.1zM178.9 194h4.1v4.1h-4.1zM179.9 194.2h4.1v4.1h-4.1zM180.9 194.4h4.1v4.1h-4.1zM181.9 194.6h4.1v4.1h-4.1zM182.9 194.8h4.1v4.1h-4.1zM183.9 194.9h4.1v4.1h-4.1zM184.9 195.1h4.1v4.1h-4.1zM185.9 195.3h4.1v4.1h-4.1zM186.9 195.4h4.1v4.1h-4.1zM187.9 195.6h4.1v4.1h-4.1zM188.9 195.8h4.1v4.1h-4.1zM189.9 196h4.1v4.1h-4.1zM190.9 196.2h4.1v4.1h-4.1zM191.9 196.5h4.1v4.1h-4.1zM192.9 196.6h4.1v4.1h-4.1zM193.9 196.8h4.1v4.1h-4.1zM194.9 197h4.1v4.1h-4.1zM195.9 197.2h4.1v4.1h-4.1zM196.9 197.4h4.1v4.1h-4.1zM197.9 197.6h4.1v4.1h-4.1zM198.9 197.8h4.1v4.1h-4.1zM199.9 198h4.1v4.1h-4.1zM200.9 198.2h4.1v4.1h-4.1zM201.9 198.4h4.1v4.1h-4.1zM202.9 198.6h4.1v4.1h-4.1zM203.9 198.8h4.1v4.1h-4.1zM204.9 199h4.1v4.1h-4.1zM205.9 199.2h4.1v4.1h-4.1zM206.9 199.4h4.1v4.1h-4.1zM207.9 199.6h4.1v4.1h-4.1zM208.9 199.8h4.1v4.1h-4.1zM209.9 200h4.1v4.1h-4.1zM210.9 200.2h4.1v4.1h-4.1zM211.9 200.4h4.1v4.1h-4.1zM212.9 200.6h4.1v4.1h-4.1zM213.9 200.8h4.1v4.1h-4.1zM214.9 201h4.1v4.1h-4.1zM215.9 201.2h4.1v4.1h-4.1zM216.9 201.4h4.1v4.1h-4.1zM217.9 201.5h4.1v4.1h-4.1zM218.9 201.7h4.1v4.1h-4.1zM219.9 201.9h4.1v4.1h-4.1zM220.9 202.1h4.1v4.1h-4.1zM221.9 202.3h4.1v4.1h-4.1zM222.9 202.5h4.1v4.1h-4.1zM223.9 202.6h4.1v4.1h-4.1zM224.9 202.8h4.1v4.1h-4.1zM225.9 203h4.1v4.1h-4.1zM226.9 203.2h4.1v4.1h-4.1zM227.9 203.3h4.1v4.1h-4.1zM228.9 203.5h4.1v4.1h-4.1zM229.9 203.6h4.1v4.1h-4.1zM230.9 203.8h4.1v4.1h-4.1zM231.9 204h4.1v4.1h-4.1zM232.9 204.1h4.1v4.1h-4.1zM233.9 204.3h4.1v4.1h-4.1zM234.9 204.4h4.1v4.1h-4.1zM235.9 204.6h4.1v4.1h-4.1zM236.9 204.7h4.1v4.1h-4.1zM237.9 204.8h4.1v4.1h-4.1zM238.9 205h4.1v4.1h-4.1zM239.9 205.1h4.1v4.1h-4.1zM240.9 205.3h4.1v4.1h-4.1zM241.9 205.4h4.1v4.1h-4.1zM242.9 205.5h4.1v4.1h-4.1zM243.9 205.6h4.1v4.1h-4.1zM244.9 205.8h4.1v4.1h-4.1zM245.9 205.9h4.1v4.1h-4.1zM246.9 206h4.1v4.1h-4.1zM247.9 206.2h4.1v4.1h-4.1zM248.9 206.3h4.1v4.1h-4.1zM249.9 206.4h4.1v4.1h-4.1zM250.9 206.5h4.1v4.1h-4.1zM251.9 206.6h4.1v4.1h-4.1zM252.9 206.8h4.1v4.1h-4.1zM253.9 206.9h4.1v4.1h-4.1zM254.9 207h4.1v4.1h-4.1zM255.9 207.1h4.1v4.1h-4.1zM256.9 207.2h4.1v4.1h-4.1zM257.9 207.3h4.1v4.1h-4.1zM258.9 207.4h4.1v4.1h-4.1zM259.9 207.5h4.1v4.1h-4.1zM260.9 207.7h4.1v4.1h-4.1zM261.9 207.8h4.1v4.1h-4.1zM262.9 207.9h4.1v4.1h-4.1zM263.9 208h4.1v4.1h-4.1zM264.9 208.1h4.1v4.1h-4.1zM265.9 208.2h4.1v4.1h-4.1zM266.9 208.3h4.1v4.1h-4.1zM267.9 208.4h4.1v4.1h-4.1zM268.9 208.5h4.1v4.1h-4.1zM269.9 208.6h4.1v4.1h-4.1zM270.9 208.7h4.1v4.1h-4.1zM271.9 208.8h4.1v4.1h-4.1zM272.9 208.9h4.1v4.1h-4.1zM273.9 209h4.1v4.1h-4.1zM274.9 209.1h4.1v4.1h-4.1zM275.9 209.2h4.1v4.1h-4.1zM276.9 209.3h4.1v4.1h-4.1zM277.9 209.4h4.1v4.1h-4.1zM278.9 209.5h4.1v4.1h-4.1zM279.9 209.6h4.1v4.1h-4.1zM280.9 209.7h4.1v4.1h-4.1zM281.9 209.8h4.1v4.1h-4.1zM282.9 209.9h4.1v4.1h-4.1zM283.9 210h4.1v4.1h-4.1zM284.9 210.1h4.1v4.1h-4.1zM285.9 210.2h4.1v4.1h-4.1zM286.9 210.3h4.1v4.1h-4.1zM287.9 210.4h4.1v4.1h-4.1zM288.9 210.5h4.1v4.1h-4.1zM289.9 210.6h4.1v4.1h-4.1zM290.9 210.7h4.1v4.1h-4.1zM291.9 210.8h4.1v4.1h-4.1zM292.9 210.8h4.1v4.1h-4.1zM293.9 210.9h4.1v4.1h-4.1zM294.9 211h4.1v4.1h-4.1zM295.9 211.1h4.1v4.1h-4.1zM296.9 211.2h4.1v4.1h-4.1zM297.9 211.3h4.1v4.1h-4.1zM298.9 211.4h4.1v4.1h-4.1zM299.9 211.5h4.1v4.1h-4.1zM300.9 211.6h4.1v4.1h-4.1zM301.9 211.7h4.1v4.1h-4.1zM302.9 211.8h4.1v4.1h-4.1zM303.9 211.9h4.1v4.1h-4.1zM304.9 212h4.1v4.1h-4.1zM305.9 212.1h4.1v4.1h-4.1zM306.9 212.2h4.1v4.1h-4.1zM307.9 212.3h4.1v4.1h-4.1zM308.9 212.4h4.1v4.1h-4.1zM309.9 212.4h4.1v4.1h-4.1zM310.9 212.5h4.1v4.1h-4.1zM311.9 212.6h4.1v4.1h-4.1zM312.9 212.7h4.1v4.1h-4.1zM313.9 212.8h4.1v4.1h-4.1zM314.9 212.9h4.1v4.1h-4.1zM315.9 213h4.1v4.1h-4.1zM316.9 213.1h4.1v4.1h-4.1zM317.9 213.2h4.1v4.1h-4.1zM318.9 213.3h4.1v4.1h-4.1zM319.9 213.3h4.1v4.1h-4.1zM320.9 213.4h4.1v4.1h-4.1zM321.9 213.5h4.1v4.1h-4.1zM322.9 213.6h4.1v4.1h-4.1zM323.9 213.7h4.1v4.1h-4.1zM324.9 213.8h4.1v4.1h-4.1zM325.9 213.9h4.1v4.1h-4.1zM326.9 213.9h4.1v4.1h-4.1zM327.9 214h4.1v4.1h-4.1zM328.9 214.1h4.1v4.1h-4.1zM329.9 214.2h4.1v4.1h-4.1zM330.9 214.3h4.1v4.1h-4.1zM331.9 214.4h4.1v4.1h-4.1zM332.9 214.4h4.1v4.1h-4.1zM333.9 214.5h4.1v4.1h-4.1zM334.9 214.6h4.1v4.1h-4.1zM335.9 214.7h4.1v4.1h-4.1zM336.9 214.7h4.1v4.1h-4.1zM337.9 214.8h4.1v4.1h-4.1zM338.9 214.9h4.1v4.1h-4.1zM339.9 215h4.1v4.1h-4.1zM340.9 215h4.1v4.1h-4.1zM341.9 215.1h4.1v4.1h-4.1zM342.9 215.2h4.1v4.1h-4.1zM343.9 215.3h4.1v4.1h-4.1zM344.9 215.3h4.1v4.1h-4.1zM345.9 215.4h4.1v4.1h-4.1zM346.9 215.5h4.1v4.1h-4.1zM347.9 215.5h4.1v4.1h-4.1zM348.9 215.6h4.1v4.1h-4.1zM349.9 215.7h4.1v4.1h-4.1zM350.9 215.7h4.1v4.1h-4.1zM351.9 215.8h4.1v4.1h-4.1zM352.9 215.9h4.1v4.1h-4.1zM353.9 215.9h4.1v4.1h-4.1zM354.9 216h4.1v4.1h-4.1zM355.9 216h4.1v4.1h-4.1zM356.9 216.1h4.1v4.1h-4.1zM357.9 216.2h4.1v4.1h-4.1zM358.9 216.2h4.1v4.1h-4.1zM359.9 216.3h4.1v4.1h-4.1zM360.9 216.3h4.1v4.1h-4.1zM361.9 216.4h4.1v4.1h-4.1zM362.9 216.4h4.1v4.1h-4.1zM363.9 216.5h4.1v4.1h-4.1zM364.9 216.5h4.1v4.1h-4.1zM365.9 216.6h4.1v4.1h-4.1zM366.9 216.6h4.1v4.1h-4.1zM367.9 216.7h4.1v4.1h-4.1zM368.9 216.7h4.1v4.1h-4.1zM369.9 216.8h4.1v4.1h-4.1zM370.9 216.9h4.1v4.1h-4.1zM371.9 216.9h4.1v4.1h-4.1zM372.9 217h4.1v4.1h-4.1zM373.9 217h4.1v4.1h-4.1zM374.9 217.1h4.1v4.1h-4.1zM375.9 217.2h4.1v4.1h-4.1zM376.9 217.2h4.1v4.1h-4.1zM377.9 217.3h4.1v4.1h-4.1zM378.9 217.4h4.1v4.1h-4.1zM379.9 217.4h4.1v4.1h-4.1zM380.9 217.5h4.1v4.1h-4.1zM381.9 217.6h4.1v4.1h-4.1zM382.9 217.6h4.1v4.1h-4.1zM383.9 217.7h4.1v4.1h-4.1zM384.9 217.8h4.1v4.1h-4.1zM385.9 217.9h4.1v4.1h-4.1zM386.9 218h4.1v4.1h-4.1zM387.9 218h4.1v4.1h-4.1zM388.9 218.1h4.1v4.1h-4.1zM389.9 218.2h4.1v4.1h-4.1zM390.9 218.3h4.1v4.1h-4.1zM391.9 218.5h4.1v4.1h-4.1zM392.9 218.6h4.1v4.1h-4.1zM393.9 218.7h4.1v4.1h-4.1zM394.9 218.9h4.1v4.1h-4.1zM395.9 219.1h4.1v4.1h-4.1zM396.9 219.2h4.1v4.1h-4.1zM397.9 219.5h4.1v4.1h-4.1zM398.9 219.7h4.1v4.1h-4.1zM399.9 219.9h4.1v4.1h-4.1zM400.9 220.1h4.1v4.1h-4.1zM401.9 220.4h4.1v4.1h-4.1zM402.9 220.6h4.1v4.1h-4.1zM403.9 220.8h4.1v4.1h-4.1zM404.9 221.1h4.1v4.1h-4.1zM405.9 221.3h4.1v4.1h-4.1zM406.9 221.5h4.1v4.1h-4.1zM407.9 221.8h4.1v4.1h-4.1zM408.9 222h4.1v4.1h-4.1zM409.9 222.3h4.1v4.1h-4.1zM410.9 222.5h4.1v4.1h-4.1zM411.9 222.8h4.1v4.1h-4.1zM412.9 223h4.1v4.1h-4.1zM413.9 223.3h4.1v4.1h-4.1zM414.9 223.6h4.1v4.1h-4.1zM415.9 223.8h4.1v4.1h-4.1zM416.9 224.1h4.1v4.1h-4.1zM417.9 224.4h4.1v4.1h-4.1zM418.9 224.6h4.1v4.1h-4.1z" fill="#00ffff" stroke="#00ffff" stroke-width="0.75"/>
<path d="M70 46.8 71 46.4 72 47.6 73 48.8 74 49 75 50.5 76 51.5 77 51.3 78 54 79 54.7 80 54.9 81 56.1 82 57.5 83 57.9 84 58.9 85 59.1 86 61.3 87 62 88 63 89 62.8 90 65.8 91 65.7 92 66.2 93 68.7 94 68.2 95 68.2 96 69.7 97 69.2 98 72.1 99 71.7 100 72.2 101 74.3 102 73.5 103 76 104 75.4 105 77.4 106 78.1 107 80.6 108 81.5 109 80.8 110 82.2 111 82.1 112 83.2 113 82.8 114 82.7 115 83.1 116 84.9 117 86.5 118 85.6 119 85.4 120 87.4 121 86.7 122 86.9 123 87.4 124 87.5 125 87.7 126 87.4 127 89.2 128 89.7 129 91.4 130 92.5 131 93.4 132 94.9 133 95.7 134 94.8 135 94 136 93.3 137 92.7 138 92.4 139 92.1 140 94.6 141 96.9 142 99.7 143 101.8 144 103.5 145 104.3 146 105.2 147 105.1 148 103.9 149 102 150 100.7 151 98.6 152 94.5 153 89.1 154 86 155 87.2 156 90.5 157 94.2 158 98 159 102.2 160 105.7 161 108.3 162 110.6 163 112.6 164 114.2 165 115.6 166 116.9 167 118.2 168 119.3 169 120.3 170 121.2 171 121.7 172 122 173 121.9 174 121.6 175 121.1 176 120.5 177 119.9 178 119.1 179 117.7 180 116 181 114.6 182 113.6 183 113.7 184 114.8 185 116.7 186 118.8 187 120.7 188 122.1 189 123.4 190 124.7 191 125.8 192 126.8 193 127.5 194 127.7 195 127.5 196 127 197 126.4 198 125.8 199 125.3 200 125 201 125.5 202 127.2 203 129.5 204 131.7 205 133.1 206 133.8 207 134.4 208 134.5 209 134 210 133.2 211 132.4 212 131.9 213 132.1 214 133.6 215 135.6 216 137.5 217 138.6 218 138.2 219 136.7 220 134.7 221 132.8 222 131.4 223 131.2 224 132.1 225 133.7 226 135.7 227 137.6 228 138.9 229 139.3 230 138.6 231 137.3 232 135.8 233 134.5 234 133.8 235 134.7 236 137.4 237 140.6 238 142.6 239 142.5 240 141.8 241 140.8 242 139.8 243 138.9 244 138.6 245 139.4 246 141.2 247 143.2 248 144.9 249 145.4 250 144.9 251 144 252 142.9 253 141.9 254 141.3 255 141.7 256 143.3 257 145.5 258 147.3 259 148.1 260 147.8 261 147.1 262 146.1 263 145.2 264 144.4 265 144 266 144.4 267 145.6 268 147.3 269 148.9 270 150 271 150.1 272 149.6 273 148.8 274 147.9 275 147.1 276 146.8 277 147.3 278 148.6 279 150.3 280 151.8 281 152.8 282 152.8 283 152.4 284 151.7 285 150.8 286 150.1 287 149.6 288 149.6 289 150.2 290 151.3 291 152.7 292 153.9 293 154.7 294 154.9 295 154.6 296 154 297 153.4 298 152.9 299 152.7 300 153 301 153.9 302 154.9 303 156 304 156.9 305 157.4 306 157.3 307 156.9 308 156.4 309 155.8 310 155.4 311 155.1 312 155.3 313 156.1 314 157.2 315 158.5 316 159.5 317 160.1 318 160.1 319 159.8 320 159.3 321 158.7 322 158.1 323 157.6 324 157.4 325 157.6 326 158.3 327 159.3 328 160.4 329 161.3 330 161.8 331 161.9 332 161.7 333 161.3 334 161 335 160.6 336 160.2 337 160 338 159.9 339 160.2 340 160.9 341 161.8 342 162.7 343 163.5 344 164.1 345 164.2 346 164.1 347 163.9 348 163.6 349 163.3 350 163 351 162.8 352 162.6 353 162.6 354 162.9 355 163.4 356 164.1 357 164.8 358 165.5 359 166.1 360 166.5 361 166.6 362 166.5 363 166.4 364 166.2 365 166 366 165.8 367 165.7 368 165.8 369 166 370 166.3 371 166.7 372 167.1 373 167.5 374 167.8 375 168 376 168 377 168 378 168 379 168 380 167.9 381 167.9 382 167.9 383 167.9 384 168 385 168.2 386 168.5 387 168.8 388 169.1 389 169.3 390 169.5 391 169.7 392 169.8 393 170 394 170.1 395 170.2 396 170.3 397 170.4 398 170.5 399 170.5 400 170.6 401 170.6 402 170.6 403 170.7 404 170.8 405 170.9 406 171.1 407 171.3 408 171.6 409 171.9 410 172.2 411 172.7 412 173.3 413 173.9 414 174.5 415 174.8 416 175 417 175.2 418 175.3 419 175.4 420 175.5 421 175.5" fill="none" stroke="#000000" stroke-width="0.6" stroke-dasharray="1 1 1 2.4"/>
<path d="M67.8 46.8a2.2 2.2 0 1 0 4.4 0a2.2 2.2 0 1 0 -4.4 0M68.8 46.4a2.2 2.2 0 1 0 4.4 0a2.2 2.2 0 1 0 -4.4 0M69.8 47.6a2.2 2.2 0 1 0 4.4 0a2.2 2.2 0 1 0 -4.4 0M70.8 48.8a2.2 2.2 0 1 0 4.4 0a2.2 2.2 0 1 0 -4.4 0M71.8 49a2.2 2.2 0 1 0 4.4 0a2.2 2.2 0 1 0 -4.4 0M72.8 50.5a2.2 2.2 0 1 0 4.4 0a2.2 2.2 0 1 0 -4.4 0M73.8 51.5a2.2 2.2 0 1 0 4.4 0a2.2 2.2 0 1 0 -4.4 0M74.8 51.3a2.2 2.2 0 1 0 4.4 0a2.2 2.2 0 1 0 -4.4 0M75.8 54a2.2 2.2 0 1 0 4.4 0a2.2 2.2 0 1 0 -4.4 0M76.8 54.7a2.2 2.2 0 1 0 4.4 0a2.2 2.2 0 1 0 -4.4 0M77.8 54.9a2.2 2.2 0 1 0 4.4 0a2.2 2.2 0 1 0 -4.4 0M78.8 56.1a2.2 2.2 0 1 0 4.4 0a2.2 2.2 0 1 0 -4.4 0M79.8 57.5a2.2 2.2 0 1 0 4.4 0a2.2 2.2 0 1 0 -4.4 0M80.8 57.9a2.2 2.2 0 1 0 4.4 0a2.2 2.2 0 1 0 -4.4 0M81.8 58.9a2.2 2.2 0 1 0 4.4 0a2.2 2.2 0 1 0 -4.4 0M82.8 59.1a2.2 2.2 0 1 0 4.4 0a2.2 2.2 0 1 0 -4.4 0M83.8 61.3a2.2 2.2 0 1 0 4.4 0a2.2 2.2 0 1 0 -4.4 0M84.8 62a2.2 2.2 0 1 0 4.4 0a2.2 2.2 0 1 0 -4.4 0M85.8 63a2.2 2.2 0 1 0 4.4 0a2.2 2.2 0 1 0 -4.4 0M86.8 62.8a2.2 2.2 0 1 0 4.4 0a2.2 2.2 0 1 0 -4.4 0M87.8 65.8a2.2 2.2 0 1 0 4.4 0a2.2 2.2 0 1 0 -4.4 0M88.8 65.7a2.2 2.2 0 1 0 4.4 0a2.2 2.2 0 1 0 -4.4 0M89.8 66.2a2.2 2.2 0 1 0 4.4 0a2.2 2.2 0 1 0 -4.4 0M90.8 68.7a2.2 2.2 0 1 0 4.4 0a2.2 2.2 0 1 0 -4.4 0M91.8 68.2a2.2 2.2 0 1 0 4.4 0a2.2 2.2 0 1 0 -4.4 0M92.8 68.2a2.2 2.2 0 1 0 4.4 0a2.2 2.2 0 1 0 -4.4 0M93.8 69.7a2.2 2.2 0 1 0 4.4 0a2.2 2.2 0 1 0 -4.4 0M94.8 69.2a2.2 2.2 0 1 0 4.4 0a2.2 2.2 0 1 0 -4.4 0M95.8 72.1a2.2 2.2 0 1 0 4.4 0a2.2 2.2 0 1 0 -4.4 0M96.8 71.7a2.2 2.2 0 1 0 4.4 0a2.2 2.2 0 1 0 -4.4 0M97.8 72.2a2.2 2.2 0 1 0 4.4 0a2.2 2.2 0 1 0 -4.4 0M98.8 74.3a2.2 2.2 0 1 0 4.4 0a2.2 2.2 0 1 0 -4.4 0M99.8 73.5a2.2 2.2 0 1 0 4.4 0a2.2 2.2 0 1 0 -4.4 0M100.8 76a2.2 2.2 0 1 0 4.4 0a2.2 2.2 0 1 0 -4.4 0M101.8 75.4a2.2 2.2 0 1 0 4.4 0a2.2 2.2 0 1 0 -4.4 0M102.8 77.4a2.2 2.2 0 1 0 4.4 0a2.2 2.2 0 1 0 -4.4 0M103.8 78.1a2.2 2.2 0 1 0 4.4 0a2.2 2.2 0 1 0 -4.4 0M104.8 80.6a2.2 2.2 0 1 0 4.4 0a2.2 2.2 0 1 0 -4.4 0M105.8 81.5a2.2 2.2 0 1 0 4.4 0a2.2 2.2 0 1 0 -4.4 0M106.8 80.8a2.2 2.2 0 1 0 4.4 0a2.2 2.2 0 1 0 -4.4 0M107.8 82.2a2.2 2.2 0 1 0 4.4 0a2.2 2.2 0 1 0 -4.4 0M108.8 82.1a2.2 2.2 0 1 0 4.4 0a2.2 2.2 0 1 0 -4.4 0M109.8 83.2a2.2 2.2 0 1 0 4.4 0a2.2 2.2 0 1 0 -4.4 0M110.8 82.8a2.2 2.2 0 1 0 4.4 0a2.2 2.2 0 1 0 -4.4 0M111.8 82.7a2.2 2.2 0 1 0 4.4 0a2.2 2.2 0 1 0 -4.4 0M112.8 83.1a2.2 2.2 0 1 0 4.4 0a2.2 2.2 0 1 0 -4.4 0M113.8 84.9a2.2 2.2 0 1 0 4.4 0a2.2 2.2 0 1 0 -4.4 0M114.8 86.5a2.2 2.2 0 1 0 4.4 0a2.2 2.2 0 1 0 -4.4 0M115.8 85.6a2.2 2.2 0 1 0 4.4 0a2.2 2.2 0 1 0 -4.4 0M116.8 85.4a2.2 2.2 0 1 0 4.4 0a2.2 2.2 0 1 0 -4.4 0M117.8 87.4a2.2 2.2 0 1 0 4.4 0a2.2 2.2 0 1 0 -4.4 0M118.8 86.7a2.2 2.2 0 1 0 4.4 0a2.2 2.2 0 1 0 -4.4 0M119.8 86.9a2.2 2.2 0 1 0 4.4 0a2.2 2.2 0 1 0 -4.4 0M120.8 87.4a2.2 2.2 0 1 0 4.4 0a2.2 2.2 0 1 0 -4.4 0M121.8 87.5a2.2 2.2 0 1 0 4.4 0a2.2 2.2 0 1 0 -4.4 0M122.8 87.7a2.2 2.2 0 1 0 4.4 0a2.2 2.2 0 1 0 -4.4 0M123.8 87.4a2.2 2.2 0 1 0 4.4 0a2.2 2.2 0 1 0 -4.4 0M124.8 89.2a2.2 2.2 0 1 0 4.4 0a2.2 2.2 0 1 0 -4.4 0M125.8 89.7a2.2 2.2 0 1 0 4.4 0a2.2 2.2 0 1 0 -4.4 0M126.8 91.4a2.2 2.2 0 1 0 4.4 0a2.2 2.2 0 1 0 -4.4 0M127.8 92.5a2.2 2.2 0 1 0 4.4 0a2.2 2.2 0 1 0 -4.4 0M128.8 93.4a2.2 2.2 0 1 0 4.4 0a2.2 2.2 0 1 0 -4.4 0M129.8 94.9a2.2 2.2 0 1 0 4.4 0a2.2 2.2 0 1 0 -4.4 0M130.8 95.7a2.2 2.2 0 1 0 4.4 0a2.2 2.2 0 1 0 -4.4 0M131.8 94.8a2.2 2.2 0 1 0 4.4 0a2.2 2.2 0 1 0 -4.4 0M132.8 94a2.2 2.2 0 1 0 4.4 0a2.2 2.2 0 1 0 -4.4 0M133.8 93.3a2.2 2.2 0 1 0 4.4 0a2.2 2.2 0 1 0 -4.4 0M134.8 92.7a2.2 2.2 0 1 0 4.4 0a2.2 2.2 0 1 0 -4.4 0M135.8 92.4a2.2 2.2 0 1 0 4.4 0a2.2 2.2 0 1 0 -4.4 0M136.8 92.1a2.2 2.2 0 1 0 4.4 0a2.2 2.2 0 1 0 -4.4 0M137.8 94.6a2.2 2.2 0 1 0 4.4 0a2.2 2.2 0 1 0 -4.4 0M138.8 96.9a2.2 2.2 0 1 0 4.4 0a2.2 2.2 0 1 0 -4.4 0M139.8 99.7a2.2 2.2 0 1 0 4.4 0a2.2 2.2 0 1 0 -4.4 0M140.8 101.8a2.2 2.2 0 1 0 4.4 0a2.2 2.2 0 1 0 -4.4 0M141.8 103.5a2.2 2.2 0 1 0 4.4 0a2.2 2.2 0 1 0 -4.4 0M142.8 104.3a2.2 2.2 0 1 0 4.4 0a2.2 2.2 0 1 0 -4.4 0M143.8 105.2a2.2 2.2 0 1 0 4.4 0a2.2 2.2 0 1 0 -4.4 0M144.8 105.1a2.2 2.2 0 1 0 4.4 0a2.2 2.2 0 1 0 -4.4 0M145.8 103.9a2.2 2.2 0 1 0 4.4 0a2.2 2.2 0 1 0 -4.4 0M146.8 102a2.2 2.2 0 1 0 4.4 0a2.2 2.2 0 1 0 -4.4 0M147.8 100.7a2.2 2.2 0 1 0 4.4 0a2.2 2.2 0 1 0 -4.4 0M148.8 98.6a2.2 2.2 0 1 0 4.4 0a2.2 2.2 0 1 0 -4.4 0M149.8 94.5a2.2 2.2 0 1 0 4.4 0a2.2 2.2 0 1 0 -4.4 0M150.8 89.1a2.2 2.2 0 1 0 4.4 0a2.2 2.2 0 1 0 -4.4 0M151.8 86a2.2 2.2 0 1 0 4.4 0a2.2 2.2 0 1 0 -4.4 0M152.8 87.2a2.2 2.2 0 1 0 4.4 0a2.2 2.2 0 1 0 -4.4 0M153.8 90.5a2.2 2.2 0 1 0 4.4 0a2.2 2.2 0 1 0 -4.4 0M154.8 94.2a2.2 2.2 0 1 0 4.4 0a2.2 2.2 0 1 0 -4.4 0M155.8 98a2.2 2.2 0 1 0 4.4 0a2.2 2.2 0 1 0 -4.4 0M156.8 102.2a2.2 2.2 0 1 0 4.4 0a2.2 2.2 0 1 0 -4.4 0M157.8 105.7a2.2 2.2 0 1 0 4.4 0a2.2 2.2 0 1 0 -4.4 0M158.8 108.3a2.2 2.2 0 1 0 4.4 0a2.2 2.2 0 1 0 -4.4 0M159.8 110.6a2.2 2.2 0 1 0 4.4 0a2.2 2.2 0 1 0 -4.4 0M160.8 112.6a2.2 2.2 0 1 0 4.4 0a2.2 2.2 0 1 0 -4.4 0M161.8 114.2a2.2 2.2 0 1 0 4.4 0a2.2 2.2 0 1 0 -4.4 0M162.8 115.6a2.2 2.2 0 1 0 4.4 0a2.2 2.2 0 1 0 -4.4 0M163.8 116.9a2.2 2.2 0 1 0 4.4 0a2.2 2.2 0 1 0 -4.4 0M164.8 118.2a2.2 2.2 0 1 0 4.4 0a2.2 2.2 0 1 0 -4.4 0M165.8 119.3a2.2 2.2 0 1 0 4.4 0a2.2 2.2 0 1 0 -4.4 0M166.8 120.3a2.2 2.2 0 1 0 4.4 0a2.2 2.2 0 1 0 -4.4 0M167.8 121.2a2.2 2.2 0 1 0 4.4 0a2.2 2.2 0 1 0 -4.4 0M168.8 121.7a2.2 2.2 0 1 0 4.4 0a2.2 2.2 0 1 0 -4.4 0M169.8 122a2.2 2.2 0 1 0 4.4 0a2.2 2.2 0 1 0 -4.4 0M170.8 121.9a2.2 2.2 0 1 0 4.4 0a2.2 2.2 0 1 0 -4.4 0M171.8 121.6a2.2 2.2 0 1 0 4.4 0a2.2 2.2 0 1 0 -4.4 0M172.8 121.1a2.2 2.2 0 1 0 4.4 0a2.2 2.2 0 1 0 -4.4 0M173.8 120.5a2.2 2.2 0 1 0 4.4 0a2.2 2.2 0 1 0 -4.4 0M174.8 119.9a2.2 2.2 0 1 0 4.4 0a2.2 2.2 0 1 0 -4.4 0M175.8 119.1a2.2 2.2 0 1 0 4.4 0a2.2 2.2 0 1 0 -4.4 0M176.8 117.7a2.2 2.2 0 1 0 4.4 0a2.2 2.2 0 1 0 -4.4 0M177.8 116a2.2 2.2 0 1 0 4.4 0a2.2 2.2 0 1 0 -4.4 0M178.8 114.6a2.2 2.2 0 1 0 4.4 0a2.2 2.2 0 1 0 -4.4 0M179.8 113.6a2.2 2.2 0 1 0 4.4 0a2.2 2.2 0 1 0 -4.4 0M180.8 113.7a2.2 2.2 0 1 0 4.4 0a2.2 2.2 0 1 0 -4.4 0M181.8 114.8a2.2 2.2 0 1 0 4.4 0a2.2 2.2 0 1 0 -4.4 0M182.8 116.7a2.2 2.2 0 1 0 4.4 0a2.2 2.2 0 1 0 -4.4 0M183.8 118.8a2.2 2.2 0 1 0 4.4 0a2.2 2.2 0 1 0 -4.4 0M184.8 120.7a2.2 2.2 0 1 0 4.4 0a2.2 2.2 0 1 0 -4.4 0M185.8 122.1a2.2 2.2 0 1 0 4.4 0a2.2 2.2 0 1 0 -4.4 0M186.8 123.4a2.2 2.2 0 1 0 4.4 0a2.2 2.2 0 1 0 -4.4 0M187.8 124.7a2.2 2.2 0 1 0 4.4 0a2.2 2.2 0 1 0 -4.4 0M188.8 125.8a2.2 2.2 0 1 0 4.4 0a2.2 2.2 0 1 0 -4.4 0M189.8 126.8a2.2 2.2 0 1 0 4.4 0a2.2 2.2 0 1 0 -4.4 0M190.8 127.5a2.2 2.2 0 1 0 4.4 0a2.2 2.2 0 1 0 -4.4 0M191.8 127.7a2.2 2.2 0 1 0 4.4 0a2.2 2.2 0 1 0 -4.4 0M192.8 127.5a2.2 2.2 0 1 0 4.4 0a2.2 2.2 0 1 0 -4.4 0M193.8 127a2.2 2.2 0 1 0 4.4 0a2.2 2.2 0 1 0 -4.4 0M194.8 126.4a2.2 2.2 0 1 0 4.4 0a2.2 2.2 0 1 0 -4.4 0M195.8 125.8a2.2 2.2 0 1 0 4.4 0a2.2 2.2 0 1 0 -4.4 0M196.8 125.3a2.2 2.2 0 1 0 4.4 0a2.2 2.2 0 1 0 -4.4 0M197.8 125a2.2 2.2 0 1 0 4.4 0a2.2 2.2 0 1 0 -4.4 0M198.8 125.5a2.2 2.2 0 1 0 4.4 0a2.2 2.2 0 1 0 -4.4 0M199.8 127.2a2.2 2.2 0 1 0 4.4 0a2.2 2.2 0 1 0 -4.4 0M200.8 129.5a2.2 2.2 0 1 0 4.4 0a2.2 2.2 0 1 0 -4.4 0M201.8 131.7a2.2 2.2 0 1 0 4.4 0a2.2 2.2 0 1 0 -4.4 0M202.8 133.1a2.2 2.2 0 1 0 4.4 0a2.2 2.2 0 1 0 -4.4 0M203.8 133.8a2.2 2.2 0 1 0 4.4 0a2.2 2.2 0 1 0 -4.4 0M204.8 134.4a2.2 2.2 0 1 0 4.4 0a2.2 2.2 0 1 0 -4.4 0M205.8 134.5a2.2 2.2 0 1 0 4.4 0a2.2 2.2 0 1 0 -4.4 0M206.8 134a2.2 2.2 0 1 0 4.4 0a2.2 2.2 0 1 0 -4.4 0M207.8 133.2a2.2 2.2 0 1 0 4.4 0a2.2 2.2 0 1 0 -4.4 0M208.8 132.4a2.2 2.2 0 1 0 4.4 0a2.2 2.2 0 1 0 -4.4 0M209.8 131.9a2.2 2.2 0 1 0 4.4 0a2.2 2.2 0 1 0 -4.4 0M210.8 132.1a2.2 2.2 0 1 0 4.4 0a2.2 2.2 0 1 0 -4.4 0M211.8 133.6a2.2 2.2 0 1 0 4.4 0a2.2 2.2 0 1 0 -4.4 0M212.8 135.6a2.2 2.2 0 1 0 4.4 0a2.2 2.2 0 1 0 -4.4 0M213.8 137.5a2.2 2.2 0 1 0 4.4 0a2.2 2.2 0 1 0 -4.4 0M214.8 138.6a2.2 2.2 0 1 0 4.4 0a2.2 2.2 0 1 0 -4.4 0M215.8 138.2a2.2 2.2 0 1 0 4.4 0a2.2 2.2 0 1 0 -4.4 0M216.8 136.7a2.2 2.2 0 1 0 4.4 0a2.2 2.2 0 1 0 -4.4 0M217.8 134.7a2.2 2.2 0 1 0 4.4 0a2.2 2.2 0 1 0 -4.4 0M218.8 132.8a2.2 2.2 0 1 0 4.4 0a2.2 2.2 0 1 0 -4.4 0M219.8 131.4a2.2 2.2 0 1 0 4.4 0a2.2 2.2 0 1 0 -4.4 0M220.8 131.2a2.2 2.2 0 1 0 4.4 0a2.2 2.2 0 1 0 -4.4 0M221.8 132.1a2.2 2.2 0 1 0 4.4 0a2.2 2.2 0 1 0 -4.4 0M222.8 133.7a2.2 2.2 0 1 0 4.4 0a2.2 2.2 0 1 0 -4.4 0M223.8 135.7a2.2 2.2 0 1 0 4.4 0a2.2 2.2 0 1 0 -4.4 0M224.8 137.6a2.2 2.2 0 1 0 4.4 0a2.2 2.2 0 1 0 -4.4 0M225.8 138.9a2.2 2.2 0 1 0 4.4 0a2.2 2.2 0 1 0 -4.4 0M226.8 139.3a2.2 2.2 0 1 0 4.4 0a2.2 2.2 0 1 0 -4.4 0M227.8 138.6a2.2 2.2 0 1 0 4.4 0a2.2 2.2 0 1 0 -4.4 0M228.8 137.3a2.2 2.2 0 1 0 4.4 0a2.2 2.2 0 1 0 -4.4 0M229.8 135.8a2.2 2.2 0 1 0 4.4 0a2.2 2.2 0 1 0 -4.4 0M230.8 134.5a2.2 2.2 0 1 0 4.4 0a2.2 2.2 0 1 0 -4.4 0M231.8 133.8a2.2 2.2 0 1 0 4.4 0a2.2 2.2 0 1 0 -4.4 0M232.8 134.7a2.2 2.2 0 1 0 4.4 0a2.2 2.2 0 1 0 -4.4 0M233.8 137.4a2.2 2.2 0 1 0 4.4 0a2.2 2.2 0 1 0 -4.4 0M234.8 140.6a2.2 2.2 0 1 0 4.4 0a2.2 2.2 0 1 0 -4.4 0M235.8 142.6a2.2 2.2 0 1 0 4.4 0a2.2 2.2 0 1 0 -4.4 0M236.8 142.5a2.2 2.2 0 1 0 4.4 0a2.2 2.2 0 1 0 -4.4 0M237.8 141.8a2.2 2.2 0 1 0 4.4 0a2.2 2.2 0 1 0 -4.4 0M238.8 140.8a2.2 2.2 0 1 0 4.4 0a2.2 2.2 0 1 0 -4.4 0M239.8 139.8a2.2 2.2 0 1 0 4.4 0a2.2 2.2 0 1 0 -4.4 0M240.8 138.9a2.2 2.2 0 1 0 4.4 0a2.2 2.2 0 1 0 -4.4 0M241.8 138.6a2.2 2.2 0 1 0 4.4 0a2.2 2.2 0 1 0 -4.4 0M242.8 139.4a2.2 2.2 0 1 0 4.4 0a2.2 2.2 0 1 0 -4.4 0M243.8 141.2a2.2 2.2 0 1 0 4.4 0a2.2 2.2 0 1 0 -4.4 0M244.8 143.2a2.2 2.2 0 1 0 4.4 0a2.2 2.2 0 1 0 -4.4 0M245.8 144.9a2.2 2.2 0 1 0 4.4 0a2.2 2.2 0 1 0 -4.4 0M246.8 145.4a2.2 2.2 0 1 0 4.4 0a2.2 2.2 0 1 0 -4.4 0M247.8 144.9a2.2 2.2 0 1 0 4.4 0a2.2 2.2 0 1 0 -4.4 0M248.8 144a2.2 2.2 0 1 0 4.4 0a2.2 2.2 0 1 0 -4.4 0M249.8 142.9a2.2 2.2 0 1 0 4.4 0a2.2 2.2 0 1 0 -4.4 0M250.8 141.9a2.2 2.2 0 1 0 4.4 0a2.2 2.2 0 1 0 -4.4 0M251.8 141.3a2.2 2.2 0 1 0 4.4 0a2.2 2.2 0 1 0 -4.4 0M252.8 141.7a2.2 2.2 0 1 0 4.4 0a2.2 2.2 0 1 0 -4.4 0M253.8 143.3a2.2 2.2 0 1 0 4.4 0a2.2 2.2 0 1 0 -4.4 0M254.8 145.5a2.2 2.2 0 1 0 4.4 0a2.2 2.2 0 1 0 -4.4 0M255.8 147.3a2.2 2.2 0 1 0 4.4 0a2.2 2.2 0 1 0 -4.4 0M256.8 148.1a2.2 2.2 0 1 0 4.4 0a2.2 2.2 0 1 0 -4.4 0M257.8 147.8a2.2 2.2 0 1 0 4.4 0a2.2 2.2 0 1 0 -4.4 0M258.8 147.1a2.2 2.2 0 1 0 4.4 0a2.2 2.2 0 1 0 -4.4 0M259.8 146.1a2.2 2.2 0 1 0 4.4 0a2.2 2.2 0 1 0 -4.4 0M260.8 145.2a2.2 2.2 0 1 0 4.4 0a2.2 2.2 0 1 0 -4.4 0M261.8 144.4a2.2 2.2 0 1 0 4.4 0a2.2 2.2 0 1 0 -4.4 0M262.8 144a2.2 2.2 0 1 0 4.4 0a2.2 2.2 0 1 0 -4.4 0M263.8 144.4a2.2 2.2 0 1 0 4.4 0a2.2 2.2 0 1 0 -4.4 0M264.8 145.6a2.2 2.2 0 1 0 4.4 0a2.2 2.2 0 1 0 -4.4 0M265.8 147.3a2.2 2.2 0 1 0 4.4 0a2.2 2.2 0 1 0 -4.4 0M266.8 148.9a2.2 2.2 0 1 0 4.4 0a2.2 2.2 0 1 0 -4.4 0M267.8 150a2.2 2.2 0 1 0 4.4 0a2.2 2.2 0 1 0 -4.4 0M268.8 150.1a2.2 2.2 0 1 0 4.4 0a2.2 2.2 0 1 0 -4.4 0M269.8 149.6a2.2 2.2 0 1 0 4.4 0a2.2 2.2 0 1 0 -4.4 0M270.8 148.8a2.2 2.2 0 1 0 4.4 0a2.2 2.2 0 1 0 -4.4 0M271.8 147.9a2.2 2.2 0 1 0 4.4 0a2.2 2.2 0 1 0 -4.4 0M272.8 147.1a2.2 2.2 0 1 0 4.4 0a2.2 2.2 0 1 0 -4.4 0M273.8 146.8a2.2 2.2 0 1 0 4.4 0a2.2 2.2 0 1 0 -4.4 0M274.8 147.3a2.2 2.2 0 1 0 4.4 0a2.2 2.2 0 1 0 -4.4 0M275.8 148.6a2.2 2.2 0 1 0 4.4 0a2.2 2.2 0 1 0 -4.4 0M276.8 150.3a2.2 2.2 0 1 0 4.4 0a2.2 2.2 0 1 0 -4.4 0M277.8 151.8a2.2 2.2 0 1 0 4.4 0a2.2 2.2 0 1 0 -4.4 0M278.8 152.8a2.2 2.2 0 1 0 4.4 0a2.2 2.2 0 1 0 -4.4 0M279.8 152.8a2.2 2.2 0 1 0 4.4 0a2.2 2.2 0 1 0 -4.4 0M280.8 152.4a2.2 2.2 0 1 0 4.4 0a2.2 2.2 0 1 0 -4.4 0M281.8 151.7a2.2 2.2 0 1 0 4.4 0a2.2 2.2 0 1 0 -4.4 0M282.8 150.8a2.2 2.2 0 1 0 4.4 0a2.2 2.2 0 1 0 -4.4 0M283.8 150.1a2.2 2.2 0 1 0 4.4 0a2.2 2.2 0 1 0 -4.4 0M284.8 149.6a2.2 2.2 0 1 0 4.4 0a2.2 2.2 0 1 0 -4.4 0M285.8 149.6a2.2 2.2 0 1 0 4.4 0a2.2 2.2 0 1 0 -4.4 0M286.8 150.2a2.2 2.2 0 1 0 4.4 0a2.2 2.2 0 1 0 -4.4 0M287.8 151.3a2.2 2.2 0 1 0 4.4 0a2.2 2.2 0 1 0 -4.4 0M288.8 152.7a2.2 2.2 0 1 0 4.4 0a2.2 2.2 0 1 0 -4.4 0M289.8 153.9a2.2 2.2 0 1 0 4.4 0a2.2 2.2 0 1 0 -4.4 0M290.8 154.7a2.2 2.2 0 1 0 4.4 0a2.2 2.2 0 1 0 -4.4 0M291.8 154.9a2.2 2.2 0 1 0 4.4 0a2.2 2.2 0 1 0 -4.4 0M292.8 154.6a2.2 2.2 0 1 0 4.4 0a2.2 2.2 0 1 0 -4.4 0M293.8 154a2.2 2.2 0 1 0 4.4 0a2.2 2.2 0 1 0 -4.4 0M294.8 153.4a2.2 2.2 0 1 0 4.4 0a2.2 2.2 0 1 0 -4.4 0M295.8 152.9a2.2 2.2 0 1 0 4.4 0a2.2 2.2 0 1 0 -4.4 0M296.8 152.7a2.2 2.2 0 1 0 4.4 0a2.2 2.2 0 1 0 -4.4 0M297.8 153a2.2 2.2 0 1 0 4.4 0a2.2 2.2 0 1 0 -4.4 0M298.8 153.9a2.2 2.2 0 1 0 4.4 0a2.2 2.2 0 1 0 -4.4 0M299.8 154.9a2.2 2.2 0 1 0 4.4 0a2.2 2.2 0 1 0 -4.4 0M300.8 156a2.2 2.2 0 1 0 4.4 0a2.2 2.2 0 1 0 -4.4 0M301.8 156.9a2.2 2.2 0 1 0 4.4 0a2.2 2.2 0 1 0 -4.4 0M302.8 157.4a2.2 2.2 0 1 0 4.4 0a2.2 2.2 0 1 0 -4.4 0M303.8 157.3a2.2 2.2 0 1 0 4.4 0a2.2 2.2 0 1 0 -4.4 0M304.8 156.9a2.2 2.2 0 1 0 4.4 0a2.2 2.2 0 1 0 -4.4 0M305.8 156.4a2.2 2.2 0 1 0 4.4 0a2.2 2.2 0 1 0 -4.4 0M306.8 155.8a2.2 2.2 0 1 0 4.4 0a2.2 2.2 0 1 0 -4.4 0M307.8 155.4a2.2 2.2 0 1 0 4.4 0a2.2 2.2 0 1 0 -4.4 0M308.8 155.1a2.2 2.2 0 1 0 4.4 0a2.2 2.2 0 1 0 -4.4 0M309.8 155.3a2.2 2.2 0 1 0 4.4 0a2.2 2.2 0 1 0 -4.4 0M310.8 156.1a2.2 2.2 0 1 0 4.4 0a2.2 2.2 0 1 0 -4.4 0M311.8 157.2a2.2 2.2 0 1 0 4.4 0a2.2 2.2 0 1 0 -4.4 0M312.8 158.5a2.2 2.2 0 1 0 4.4 0a2.2 2.2 0 1 0 -4.4 0M313.8 159.5a2.2 2.2 0 1 0 4.4 0a2.2 2.2 0 1 0 -4.4 0M314.8 160.1a2.2 2.2 0 1 0 4.4 0a2.2 2.2 0 1 0 -4.4 0M315.8 160.1a2.2 2.2 0 1 0 4.4 0a2.2 2.2 0 1 0 -4.4 0M316.8 159.8a2.2 2.2 0 1 0 4.4 0a2.2 2.2 0 1 0 -4.4 0M317.8 159.3a2.2 2.2 0 1 0 4.4 0a2.2 2.2 0 1 0 -4.4 0M318.8 158.7a2.2 2.2 0 1 0 4.4 0a2.2 2.2 0 1 0 -4.4 0M319.8 158.1a2.2 2.2 0 1 0 4.4 0a2.2 2.2 0 1 0 -4.4 0M320.8 157.6a2.2 2.2 0 1 0 4.4 0a2.2 2.2 0 1 0 -4.4 0M321.8 157.4a2.2 2.2 0 1 0 4.4 0a2.2 2.2 0 1 0 -4.4 0M322.8 157.6a2.2 2.2 0 1 0 4.4 0a2.2 2.2 0 1 0 -4.4 0M323.8 158.3a2.2 2.2 0 1 0 4.4 0a2.2 2.2 0 1 0 -4.4 0M324.8 159.3a2.2 2.2 0 1 0 4.4 0a2.2 2.2 0 1 0 -4.4 0M325.8 160.4a2.2 2.2 0 1 0 4.4 0a2.2 2.2 0 1 0 -4.4 0M326.8 161.3a2.2 2.2 0 1 0 4.4 0a2.2 2.2 0 1 0 -4.4 0M327.8 161.8a2.2 2.2 0 1 0 4.4 0a2.2 2.2 0 1 0 -4.4 0M328.8 161.9a2.2 2.2 0 1 0 4.4 0a2.2 2.2 0 1 0 -4.4 0M329.8 161.7a2.2 2.2 0 1 0 4.4 0a2.2 2.2 0 1 0 -4.4 0M330.8 161.3a2.2 2.2 0 1 0 4.4 0a2.2 2.2 0 1 0 -4.4 0M331.8 161a2.2 2.2 0 1 0 4.4 0a2.2 2.2 0 1 0 -4.4 0M332.8 160.6a2.2 2.2 0 1 0 4.4 0a2.2 2.2 0 1 0 -4.4 0M333.8 160.2a2.2 2.2 0 1 0 4.4 0a2.2 2.2 0 1 0 -4.4 0M334.8 160a2.2 2.2 0 1 0 4.4 0a2.2 2.2 0 1 0 -4.4 0M335.8 159.9a2.2 2.2 0 1 0 4.4 0a2.2 2.2 0 1 0 -4.4 0M336.8 160.2a2.2 2.2 0 1 0 4.4 0a2.2 2.2 0 1 0 -4.4 0M337.8 160.9a2.2 2.2 0 1 0 4.4 0a2.2 2.2 0 1 0 -4.4 0M338.8 161.8a2.2 2.2 0 1 0 4.4 0a2.2 2.2 0 1 0 -4.4 0M339.8 162.7a2.2 2.2 0 1 0 4.4 0a2.2 2.2 0 1 0 -4.4 0M340.8 163.5a2.2 2.2 0 1 0 4.4 0a2.2 2.2 0 1 0 -4.4 0M341.8 164.1a2.2 2.2 0 1 0 4.4 0a2.2 2.2 0 1 0 -4.4 0M342.8 164.2a2.2 2.2 0 1 0 4.4 0a2.2 2.2 0 1 0 -4.4 0M343.8 164.1a2.2 2.2 0 1 0 4.4 0a2.2 2.2 0 1 0 -4.4 0M344.8 163.9a2.2 2.2 0 1 0 4.4 0a2.2 2.2 0 1 0 -4.4 0M345.8 163.6a2.2 2.2 0 1 0 4.4 0a2.2 2.2 0 1 0 -4.4 0M346.8 163.3a2.2 2.2 0 1 0 4.4 0a2.2 2.2 0 1 0 -4.4 0M347.8 163a2.2 2.2 0 1 0 4.4 0a2.2 2.2 0 1 0 -4.4 0M348.8 162.8a2.2 2.2 0 1 0 4.4 0a2.2 2.2 0 1 0 -4.4 0M349.8 162.6a2.2 2.2 0 1 0 4.4 0a2.2 2.2 0 1 0 -4.4 0M350.8 162.6a2.2 2.2 0 1 0 4.4 0a2.2 2.2 0 1 0 -4.4 0M351.8 162.9a2.2 2.2 0 1 0 4.4 0a2.2 2.2 0 1 0 -4.4 0M352.8 163.4a2.2 2.2 0 1 0 4.4 0a2.2 2.2 0 1 0 -4.4 0M353.8 164.1a2.2 2.2 0 1 0 4.4 0a2.2 2.2 0 1 0 -4.4 0M354.8 164.8a2.2 2.2 0 1 0 4.4 0a2.2 2.2 0 1 0 -4.4 0M355.8 165.5a2.2 2.2 0 1 0 4.4 0a2.2 2.2 0 1 0 -4.4 0M356.8 166.1a2.2 2.2 0 1 0 4.4 0a2.2 2.2 0 1 0 -4.4 0M357.8 166.5a2.2 2.2 0 1 0 4.4 0a2.2 2.2 0 1 0 -4.4 0M358.8 166.6a2.2 2.2 0 1 0 4.4 0a2.2 2.2 0 1 0 -4.4 0M359.8 166.5a2.2 2.2 0 1 0 4.4 0a2.2 2.2 0 1 0 -4.4 0M360.8 166.4a2.2 2.2 0 1 0 4.4 0a2.2 2.2 0 1 0 -4.4 0M361.8 166.2a2.2 2.2 0 1 0 4.4 0a2.2 2.2 0 1 0 -4.4 0M362.8 166a2.2 2.2 0 1 0 4.4 0a2.2 2.2 0 1 0 -4.4 0M363.8 165.8a2.2 2.2 0 1 0 4.4 0a2.2 2.2 0 1 0 -4.4 0M364.8 165.7a2.2 2.2 0 1 0 4.4 0a2.2 2.2 0 1 0 -4.4 0M365.8 165.8a2.2 2.2 0 1 0 4.4 0a2.2 2.2 0 1 0 -4.4 0M366.8 166a2.2 2.2 0 1 0 4.4 0a2.2 2.2 0 1 0 -4.4 0M367.8 166.3a2.2 2.2 0 1 0 4.4 0a2.2 2.2 0 1 0 -4.4 0M368.8 166.7a2.2 2.2 0 1 0 4.4 0a2.2 2.2 0 1 0 -4.4 0M369.8 167.1a2.2 2.2 0 1 0 4.4 0a2.2 2.2 0 1 0 -4.4 0M370.8 167.5a2.2 2.2 0 1 0 4.4 0a2.2 2.2 0 1 0 -4.4 0M371.8 167.8a2.2 2.2 0 1 0 4.4 0a2.2 2.2 0 1 0 -4.4 0M372.8 168a2.2 2.2 0 1 0 4.4 0a2.2 2.2 0 1 0 -4.4 0M373.8 168a2.2 2.2 0 1 0 4.4 0a2.2 2.2 0 1 0 -4.4 0M374.8 168a2.2 2.2 0 1 0 4.4 0a2.2 2.2 0 1 0 -4.4 0M375.8 168a2.2 2.2 0 1 0 4.4 0a2.2 2.2 0 1 0 -4.4 0M376.8 168a2.2 2.2 0 1 0 4.4 0a2.2 2.2 0 1 0 -4.4 0M377.8 167.9a2.2 2.2 0 1 0 4.4 0a2.2 2.2 0 1 0 -4.4 0M378.8 167.9a2.2 2.2 0 1 0 4.4 0a2.2 2.2 0 1 0 -4.4 0M379.8 167.9a2.2 2.2 0 1 0 4.4 0a2.2 2.2 0 1 0 -4.4 0M380.8 167.9a2.2 2.2 0 1 0 4.4 0a2.2 2.2 0 1 0 -4.4 0M381.8 168a2.2 2.2 0 1 0 4.4 0a2.2 2.2 0 1 0 -4.4 0M382.8 168.2a2.2 2.2 0 1 0 4.4 0a2.2 2.2 0 1 0 -4.4 0M383.8 168.5a2.2 2.2 0 1 0 4.4 0a2.2 2.2 0 1 0 -4.4 0M384.8 168.8a2.2 2.2 0 1 0 4.4 0a2.2 2.2 0 1 0 -4.4 0M385.8 169.1a2.2 2.2 0 1 0 4.4 0a2.2 2.2 0 1 0 -4.4 0M386.8 169.3a2.2 2.2 0 1 0 4.4 0a2.2 2.2 0 1 0 -4.4 0M387.8 169.5a2.2 2.2 0 1 0 4.4 0a2.2 2.2 0 1 0 -4.4 0M388.8 169.7a2.2 2.2 0 1 0 4.4 0a2.2 2.2 0 1 0 -4.4 0M389.8 169.8a2.2 2.2 0 1 0 4.4 0a2.2 2.2 0 1 0 -4.4 0M390.8 170a2.2 2.2 0 1 0 4.4 0a2.2 2.2 0 1 0 -4.4 0M391.8 170.1a2.2 2.2 0 1 0 4.4 0a2.2 2.2 0 1 0 -4.4 0M392.8 170.2a2.2 2.2 0 1 0 4.4 0a2.2 2.2 0 1 0 -4.4 0M393.8 170.3a2.2 2.2 0 1 0 4.4 0a2.2 2.2 0 1 0 -4.4 0M394.8 170.4a2.2 2.2 0 1 0 4.4 0a2.2 2.2 0 1 0 -4.4 0M395.8 170.5a2.2 2.2 0 1 0 4.4 0a2.2 2.2 0 1 0 -4.4 0M396.8 170.5a2.2 2.2 0 1 0 4.4 0a2.2 2.2 0 1 0 -4.4 0M397.8 170.6a2.2 2.2 0 1 0 4.4 0a2.2 2.2 0 1 0 -4.4 0M398.8 170.6a2.2 2.2 0 1 0 4.4 0a2.2 2.2 0 1 0 -4.4 0M399.8 170.6a2.2 2.2 0 1 0 4.4 0a2.2 2.2 0 1 0 -4.4 0M400.8 170.7a2.2 2.2 0 1 0 4.4 0a2.2 2.2 0 1 0 -4.4 0M401.8 170.8a2.2 2.2 0 1 0 4.4 0a2.2 2.2 0 1 0 -4.4 0M402.8 170.9a2.2 2.2 0 1 0 4.4 0a2.2 2.2 0 1 0 -4.4 0M403.8 171.1a2.2 2.2 0 1 0 4.4 0a2.2 2.2 0 1 0 -4.4 0M404.8 171.3a2.2 2.2 0 1 0 4.4 0a2.2 2.2 0 1 0 -4.4 0M405.8 171.6a2.2 2.2 0 1 0 4.4 0a2.2 2.2 0 1 0 -4.4 0M406.8 171.9a2.2 2.2 0 1 0 4.4 0a2.2 2.2 0 1 0 -4.4 0M407.8 172.2a2.2 2.2 0 1 0 4.4 0a2.2 2.2 0 1 0 -4.4 0M408.8 172.7a2.2 2.2 0 1 0 4.4 0a2.2 2.2 0 1 0 -4.4 0M409.8 173.3a2.2 2.2 0 1 0 4.4 0a2.2 2.2 0 1 0 -4.4 0M410.8 173.9a2.2 2.2 0 1 0 4.4 0a2.2 2.2 0 1 0 -4.4 0M411.8 174.5a2.2 2.2 0 1 0 4.4 0a2.2 2.2 0 1 0 -4.4 0M412.8 174.8a2.2 2.2 0 1 0 4.4 0a2.2 2.2 0 1 0 -4.4 0M413.8 175a2.2 2.2 0 1 0 4.4 0a2.2 2.2 0 1 0 -4.4 0M414.8 175.2a2.2 2.2 0 1 0 4.4 0a2.2 2.2 0 1 0 -4.4 0M415.8 175.3a2.2 2.2 0 1 0 4.4 0a2.2 2.2 0 1 0 -4.4 0M416.8 175.4a2.2 2.2 0 1 0 4.4 0a2.2 2.2 0 1 0 -4.4 0M417.8 175.5a2.2 2.2 0 1 0 4.4 0a2.2 2.2 0 1 0 -4.4 0M418.8 175.5a2.2 2.2 0 1 0 4.4 0a2.2 2.2 0 1 0 -4.4 0" fill="none" stroke="#000000" stroke-width="0.75"/>
<path d="M86.7 272.4v-4.2M86.7 15v4.2M170.2 272.4v-4.2M170.2 15v4.2M253.8 272.4v-4.2M253.8 15v4.2M337.3 272.4v-4.2M337.3 15v4.2M420.8 272.4v-4.2M420.8 15v4.2M70 272.4h4.2M420.8 272.4h-4.2M70 235.6h4.2M420.8 235.6h-4.2M70 198.9h4.2M420.8 198.9h-4.2M70 162.1h4.2M420.8 162.1h-4.2M70 125.3h4.2M420.8 125.3h-4.2M70 88.5h4.2M420.8 88.5h-4.2M70 51.8h4.2M420.8 51.8h-4.2M70 15h4.2M420.8 15h-4.2" fill="none" stroke="#000" stroke-width="1"/>
<path d="M70.0 15.0V272.4H420.8V15.0z" fill="none" stroke="#000" stroke-width="1"/>
<g font-family="Liberation Sans, sans-serif" font-size="12.0" fill="#000" stroke="#000" stroke-width="0.18" style="filter:grayscale(1)">
<text x="61.7" y="276" text-anchor="end">0</text>
<text x="61.7" y="239.2" text-anchor="end">200</text>
<text x="61.7" y="202.5" text-anchor="end">400</text>
<text x="61.7" y="165.7" text-anchor="end">600</text>
<text x="61.7" y="128.9" text-anchor="end">800</text>
<text x="61.7" y="92.1" text-anchor="end">1000</text>
<text x="61.7" y="55.4" text-anchor="end">1200</text>
<text x="61.7" y="18.6" text-anchor="end">1400</text>
<text x="88.7" y="288.6" text-anchor="middle">0.5</text>
<text x="172.2" y="288.6" text-anchor="middle">1</text>
<text x="255.8" y="288.6" text-anchor="middle">1.5</text>
<text x="339.3" y="288.6" text-anchor="middle">2</text>
<text x="422.8" y="288.6" text-anchor="middle">2.5</text>
<text x="227" y="306.3">r [a<tspan font-size="10.5" dy="2.5">Jup</tspan><tspan dy="-2.5">]</tspan></text>
<text transform="translate(16.2 169.5) rotate(-90)"><tspan font-family="Liberation Serif, serif">Σ</tspan> in g/cm<tspan font-size="9.6" dy="-5">2</tspan></text>
<text x="365.4" y="28.1" text-anchor="end" font-size="12.3">M<tspan font-size="9.8" dy="4">Disc</tspan><tspan dy="-4">=0.005 M</tspan><tspan font-size="9.8" dy="4">Sol</tspan></text>
<text x="365.4" y="40.3" text-anchor="end" font-size="12.3">M<tspan font-size="9.8" dy="4">Disc</tspan><tspan dy="-4">=0.0075 M</tspan><tspan font-size="9.8" dy="4">Sol</tspan></text>
<text x="365.4" y="52.5" text-anchor="end" font-size="12.3">M<tspan font-size="9.8" dy="4">Disc</tspan><tspan dy="-4">=0.010 M</tspan><tspan font-size="9.8" dy="4">Sol</tspan></text>
<text x="365.4" y="64.7" text-anchor="end" font-size="12.3">M<tspan font-size="9.8" dy="4">Disc</tspan><tspan dy="-4">=0.015 M</tspan><tspan font-size="9.8" dy="4">Sol</tspan></text>
<text x="365.4" y="76.9" text-anchor="end" font-size="12.3">M<tspan font-size="9.8" dy="4">Disc</tspan><tspan dy="-4">=0.020 M</tspan><tspan font-size="9.8" dy="4">Sol</tspan></text>
<text x="365.4" y="89.1" text-anchor="end" font-size="12.3">M<tspan font-size="9.8" dy="4">Disc</tspan><tspan dy="-4">=0.040 M</tspan><tspan font-size="9.8" dy="4">Sol</tspan></text>
</g>
<path d="M373 24.7H405.8" fill="none" stroke="#ff0000" stroke-width="0.8"/>
<path d="M387.6 24.7h3.6M389.4 22.9v3.6" fill="none" stroke="#ff0000" stroke-width="0.9"/>
<path d="M373 36.9H405.8" fill="none" stroke="#00ff00" stroke-width="0.8" stroke-dasharray="2.4 1.3"/>
<path d="M387.6 35.1l3.6 3.6M387.6 38.7l3.6 -3.6" fill="none" stroke="#00ff00" stroke-width="0.9"/>
<path d="M373 49.1H405.8" fill="none" stroke="#0000ff" stroke-width="0.8" stroke-dasharray="1.5 1.1"/>
<path d="M387.5 49.1h3.8M389.4 47.2v3.8M387.5 47.2l3.8 3.8M387.5 51l3.8 -3.8" fill="none" stroke="#0000ff" stroke-width="0.9"/>
<path d="M373 61.3H405.8" fill="none" stroke="#ff00ff" stroke-width="0.8" stroke-dasharray="1.5 1.1"/>
<path d="M387.3 59.2h4.2v4.2h-4.2z" fill="none" stroke="#ff00ff" stroke-width="0.9"/>
<path d="M373 73.5H405.8" fill="none" stroke="#00ffff" stroke-width="0.8" stroke-dasharray="3 1 0.8 1"/>
<path d="M387.4 71.5h4v4h-4z" fill="#00ffff" stroke="#00ffff" stroke-width="0.9"/>
<path d="M373 85.7H405.8" fill="none" stroke="#000000" stroke-width="0.8" stroke-dasharray="1 1 1 2.4"/>
<path d="M387.3 85.7a2.1 2.1 0 1 0 4.2 0a2.1 2.1 0 1 0 -4.2 0" fill="none" stroke="#000000" stroke-width="0.9"/>
</svg>
</body></html>
